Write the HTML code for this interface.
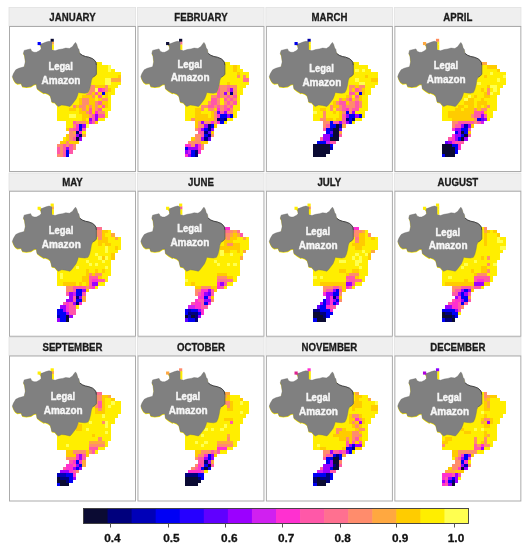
<!DOCTYPE html><html><head><meta charset="utf-8"><style>
html,body{margin:0;padding:0;background:#fff;}
body{width:528px;height:550px;position:relative;overflow:hidden;}
svg{position:absolute;left:0;top:0;will-change:transform;}
text{font-family:"Liberation Sans",sans-serif;font-weight:bold;}
</style></head><body>
<svg width="528" height="550" viewBox="0 0 528 550">
<defs><polygon id="amz" points="3.4,50.6 4.5,47.6 6.8,43.8 9.8,42.3 15.2,40.8 16.3,35.8 15.5,29.7 14.4,27.4 15.2,24.4 18.9,23.6 21.6,22.9 22.7,25.2 25,26.3 27.3,26.3 30.3,24.8 32.2,22.9 31.8,19.8 30.3,18.3 33.3,17.6 37.1,16.1 40,15.3 41.3,15.6 43,15.8 43,23.6 44.5,24.2 46,24.8 49.8,23.6 53.6,22.9 56.7,22.1 60.5,22.5 63.5,20.6 65,18.3 66.5,16.4 67.7,18.3 68.8,22.1 69.9,23.3 70.7,27.4 73.3,29.3 76.4,30.5 79.8,31.2 83.6,32.7 85.8,34.6 87,36.5 87.4,39.2 87.4,48.2 85.8,50.1 83.6,51.3 82.4,54.3 81.7,58.8 80.5,63.5 79,66.6 76,67.3 72.4,66.9 69.3,66.5 68.6,69.2 67.1,72.9 64.8,76 62.5,79 61,80.5 56.5,79.4 52.7,79 49.3,80.5 47.7,79 45.8,76.7 42.8,76 42.1,72.9 41.3,69.9 39,68 36,66.9 34.8,67.3 31.1,65 28,62.7 27.3,58.2 25,58.6 22,60.5 17.4,61.2 13.3,60.5 12.1,57.4 8.3,57.8 6.1,56.3 4.5,53.6"/></defs>

<rect x="9.00" y="7.40" width="126.6" height="18.60" fill="#efefef" stroke="#e2e2e2" stroke-width="0.8"/>
<text transform="translate(72.50,21.10) scale(0.92,1)" font-size="10.5" text-anchor="middle" fill="#1a1a1a" stroke="#1a1a1a" stroke-width="0.3">JANUARY</text>
<rect x="9.50" y="26.50" width="126" height="145" fill="#fff" stroke="#ababab" stroke-width="1"/>
<g transform="translate(9.00,26.00)">
<g shape-rendering="crispEdges"><rect x="47.58" y="36.10" width="45.08" height="3.27" fill="#ffee00"/><rect x="47.58" y="39.37" width="51.52" height="3.27" fill="#ffee00"/><rect x="99.10" y="39.37" width="3.22" height="3.27" fill="#ffff50"/><rect x="47.58" y="42.64" width="51.52" height="3.27" fill="#ffee00"/><rect x="99.10" y="42.64" width="3.22" height="3.27" fill="#ffff50"/><rect x="102.32" y="42.64" width="3.22" height="3.27" fill="#ffee00"/><rect x="47.58" y="45.91" width="64.40" height="3.27" fill="#ffee00"/><rect x="47.58" y="49.18" width="61.18" height="3.27" fill="#ffee00"/><rect x="108.76" y="49.18" width="3.22" height="3.27" fill="#ffcc00"/><rect x="47.58" y="52.45" width="48.30" height="3.27" fill="#ffee00"/><rect x="95.88" y="52.45" width="6.44" height="3.27" fill="#ffff50"/><rect x="102.32" y="52.45" width="9.66" height="3.27" fill="#ffa840"/><rect x="47.58" y="55.72" width="48.30" height="3.27" fill="#ffee00"/><rect x="95.88" y="55.72" width="6.44" height="3.27" fill="#ffff50"/><rect x="102.32" y="55.72" width="9.66" height="3.27" fill="#ffee00"/><rect x="47.58" y="58.99" width="28.98" height="3.27" fill="#ffee00"/><rect x="76.56" y="58.99" width="9.66" height="3.27" fill="#ff8c6c"/><rect x="86.22" y="58.99" width="9.66" height="3.27" fill="#ffcc00"/><rect x="95.88" y="58.99" width="3.22" height="3.27" fill="#ff8c6c"/><rect x="99.10" y="58.99" width="9.66" height="3.27" fill="#ffee00"/><rect x="47.58" y="62.26" width="25.76" height="3.27" fill="#ffee00"/><rect x="73.34" y="62.26" width="12.88" height="3.27" fill="#ff8c6c"/><rect x="86.22" y="62.26" width="3.22" height="3.27" fill="#ffff50"/><rect x="89.44" y="62.26" width="3.22" height="3.27" fill="#ff30d0"/><rect x="92.66" y="62.26" width="3.22" height="3.27" fill="#ff58a8"/><rect x="95.88" y="62.26" width="3.22" height="3.27" fill="#ff8c6c"/><rect x="99.10" y="62.26" width="3.22" height="3.27" fill="#ffcc00"/><rect x="102.32" y="62.26" width="3.22" height="3.27" fill="#ffee00"/><rect x="47.58" y="65.53" width="28.98" height="3.27" fill="#ffee00"/><rect x="76.56" y="65.53" width="6.44" height="3.27" fill="#ff8c6c"/><rect x="83.00" y="65.53" width="3.22" height="3.27" fill="#ffcc00"/><rect x="86.22" y="65.53" width="3.22" height="3.27" fill="#ff58a8"/><rect x="89.44" y="65.53" width="3.22" height="3.27" fill="#ffcc00"/><rect x="92.66" y="65.53" width="3.22" height="3.27" fill="#0000f5"/><rect x="95.88" y="65.53" width="3.22" height="3.27" fill="#ffcc00"/><rect x="99.10" y="65.53" width="6.44" height="3.27" fill="#ffee00"/><rect x="47.58" y="68.80" width="25.76" height="3.27" fill="#ffee00"/><rect x="73.34" y="68.80" width="9.66" height="3.27" fill="#ffcc00"/><rect x="83.00" y="68.80" width="3.22" height="3.27" fill="#ff8c6c"/><rect x="86.22" y="68.80" width="3.22" height="3.27" fill="#ffee00"/><rect x="89.44" y="68.80" width="3.22" height="3.27" fill="#ff58a8"/><rect x="92.66" y="68.80" width="3.22" height="3.27" fill="#ffee00"/><rect x="95.88" y="68.80" width="3.22" height="3.27" fill="#ffcc00"/><rect x="99.10" y="68.80" width="3.22" height="3.27" fill="#ffee00"/><rect x="47.58" y="72.07" width="22.54" height="3.27" fill="#ffee00"/><rect x="70.12" y="72.07" width="3.22" height="3.27" fill="#ffcc00"/><rect x="73.34" y="72.07" width="6.44" height="3.27" fill="#ff8c6c"/><rect x="79.78" y="72.07" width="6.44" height="3.27" fill="#ffcc00"/><rect x="86.22" y="72.07" width="3.22" height="3.27" fill="#ffee00"/><rect x="89.44" y="72.07" width="3.22" height="3.27" fill="#ffcc00"/><rect x="92.66" y="72.07" width="6.44" height="3.27" fill="#ff8c6c"/><rect x="99.10" y="72.07" width="3.22" height="3.27" fill="#ffee00"/><rect x="47.58" y="75.34" width="22.54" height="3.27" fill="#ffee00"/><rect x="70.12" y="75.34" width="3.22" height="3.27" fill="#ffcc00"/><rect x="73.34" y="75.34" width="6.44" height="3.27" fill="#ff8c6c"/><rect x="79.78" y="75.34" width="6.44" height="3.27" fill="#ffcc00"/><rect x="86.22" y="75.34" width="3.22" height="3.27" fill="#ff8c6c"/><rect x="89.44" y="75.34" width="3.22" height="3.27" fill="#ff58a8"/><rect x="92.66" y="75.34" width="6.44" height="3.27" fill="#ffcc00"/><rect x="99.10" y="75.34" width="3.22" height="3.27" fill="#ffee00"/><rect x="47.58" y="78.61" width="16.10" height="3.27" fill="#ffee00"/><rect x="63.68" y="78.61" width="3.22" height="3.27" fill="#ff8c6c"/><rect x="66.90" y="78.61" width="3.22" height="3.27" fill="#ffcc00"/><rect x="70.12" y="78.61" width="6.44" height="3.27" fill="#ff8c6c"/><rect x="76.56" y="78.61" width="3.22" height="3.27" fill="#ffcc00"/><rect x="79.78" y="78.61" width="3.22" height="3.27" fill="#ff8c6c"/><rect x="83.00" y="78.61" width="3.22" height="3.27" fill="#ffcc00"/><rect x="86.22" y="78.61" width="3.22" height="3.27" fill="#ff8c6c"/><rect x="89.44" y="78.61" width="3.22" height="3.27" fill="#ffcc00"/><rect x="92.66" y="78.61" width="3.22" height="3.27" fill="#ff58a8"/><rect x="95.88" y="78.61" width="3.22" height="3.27" fill="#ffcc00"/><rect x="99.10" y="78.61" width="3.22" height="3.27" fill="#ffee00"/><rect x="47.58" y="81.88" width="12.88" height="3.27" fill="#ffee00"/><rect x="60.46" y="81.88" width="6.44" height="3.27" fill="#ffcc00"/><rect x="66.90" y="81.88" width="3.22" height="3.27" fill="#ffee00"/><rect x="70.12" y="81.88" width="3.22" height="3.27" fill="#ffcc00"/><rect x="73.34" y="81.88" width="3.22" height="3.27" fill="#ff8c6c"/><rect x="76.56" y="81.88" width="3.22" height="3.27" fill="#ffcc00"/><rect x="79.78" y="81.88" width="3.22" height="3.27" fill="#ff58a8"/><rect x="83.00" y="81.88" width="3.22" height="3.27" fill="#ffcc00"/><rect x="86.22" y="81.88" width="3.22" height="3.27" fill="#ff8c6c"/><rect x="89.44" y="81.88" width="3.22" height="3.27" fill="#ff58a8"/><rect x="92.66" y="81.88" width="9.66" height="3.27" fill="#ffee00"/><rect x="47.58" y="85.15" width="22.54" height="3.27" fill="#ffee00"/><rect x="70.12" y="85.15" width="6.44" height="3.27" fill="#ffcc00"/><rect x="76.56" y="85.15" width="3.22" height="3.27" fill="#ff8c6c"/><rect x="79.78" y="85.15" width="3.22" height="3.27" fill="#ff58a8"/><rect x="83.00" y="85.15" width="3.22" height="3.27" fill="#ffcc00"/><rect x="86.22" y="85.15" width="3.22" height="3.27" fill="#ff30d0"/><rect x="89.44" y="85.15" width="6.44" height="3.27" fill="#ff8c6c"/><rect x="95.88" y="85.15" width="3.22" height="3.27" fill="#ffee00"/><rect x="47.58" y="88.42" width="12.88" height="3.27" fill="#ffee00"/><rect x="60.46" y="88.42" width="6.44" height="3.27" fill="#ffff50"/><rect x="66.90" y="88.42" width="6.44" height="3.27" fill="#ffee00"/><rect x="73.34" y="88.42" width="6.44" height="3.27" fill="#ffcc00"/><rect x="79.78" y="88.42" width="3.22" height="3.27" fill="#ff8c6c"/><rect x="83.00" y="88.42" width="3.22" height="3.27" fill="#ff58a8"/><rect x="86.22" y="88.42" width="3.22" height="3.27" fill="#9b00ff"/><rect x="89.44" y="88.42" width="6.44" height="3.27" fill="#ff58a8"/><rect x="95.88" y="88.42" width="3.22" height="3.27" fill="#ffee00"/><rect x="47.58" y="91.69" width="25.76" height="3.27" fill="#ffee00"/><rect x="73.34" y="91.69" width="3.22" height="3.27" fill="#ffcc00"/><rect x="76.56" y="91.69" width="3.22" height="3.27" fill="#ffee00"/><rect x="79.78" y="91.69" width="3.22" height="3.27" fill="#9b00ff"/><rect x="83.00" y="91.69" width="3.22" height="3.27" fill="#ff58a8"/><rect x="86.22" y="91.69" width="3.22" height="3.27" fill="#9b00ff"/><rect x="89.44" y="91.69" width="6.44" height="3.27" fill="#ffee00"/><rect x="57.24" y="94.96" width="6.44" height="3.27" fill="#ffee00"/><rect x="63.68" y="94.96" width="3.22" height="3.27" fill="#ff58a8"/><rect x="66.90" y="94.96" width="9.66" height="3.27" fill="#ff8c6c"/><rect x="76.56" y="94.96" width="3.22" height="3.27" fill="#ffcc00"/><rect x="79.78" y="94.96" width="3.22" height="3.27" fill="#d020f0"/><rect x="83.00" y="94.96" width="3.22" height="3.27" fill="#ff58a8"/><rect x="86.22" y="94.96" width="3.22" height="3.27" fill="#ffcc00"/><rect x="57.24" y="98.23" width="6.44" height="3.27" fill="#ffee00"/><rect x="63.68" y="98.23" width="3.22" height="3.27" fill="#ff8c6c"/><rect x="66.90" y="98.23" width="3.22" height="3.27" fill="#ff30d0"/><rect x="70.12" y="98.23" width="3.22" height="3.27" fill="#0000f5"/><rect x="73.34" y="98.23" width="3.22" height="3.27" fill="#9b00ff"/><rect x="76.56" y="98.23" width="3.22" height="3.27" fill="#ffff50"/><rect x="57.24" y="101.50" width="3.22" height="3.27" fill="#ffcc00"/><rect x="60.46" y="101.50" width="3.22" height="3.27" fill="#ff7090"/><rect x="63.68" y="101.50" width="3.22" height="3.27" fill="#ff58a8"/><rect x="66.90" y="101.50" width="3.22" height="3.27" fill="#ff30d0"/><rect x="70.12" y="101.50" width="3.22" height="3.27" fill="#0000f5"/><rect x="73.34" y="101.50" width="3.22" height="3.27" fill="#ff58a8"/><rect x="60.46" y="104.77" width="3.22" height="3.27" fill="#ff8c6c"/><rect x="63.68" y="104.77" width="3.22" height="3.27" fill="#ffa840"/><rect x="66.90" y="104.77" width="3.22" height="3.27" fill="#00007d"/><rect x="70.12" y="104.77" width="3.22" height="3.27" fill="#ff30d0"/><rect x="73.34" y="104.77" width="3.22" height="3.27" fill="#ffee00"/><rect x="57.24" y="108.04" width="3.22" height="3.27" fill="#ffcc00"/><rect x="60.46" y="108.04" width="6.44" height="3.27" fill="#ff8c6c"/><rect x="66.90" y="108.04" width="3.22" height="3.27" fill="#9b00ff"/><rect x="70.12" y="108.04" width="3.22" height="3.27" fill="#00007d"/><rect x="73.34" y="108.04" width="3.22" height="3.27" fill="#ffa840"/><rect x="54.02" y="111.31" width="3.22" height="3.27" fill="#ffee00"/><rect x="57.24" y="111.31" width="3.22" height="3.27" fill="#ffcc00"/><rect x="60.46" y="111.31" width="3.22" height="3.27" fill="#ff8c6c"/><rect x="63.68" y="111.31" width="3.22" height="3.27" fill="#ff58a8"/><rect x="66.90" y="111.31" width="3.22" height="3.27" fill="#0b0b33"/><rect x="70.12" y="111.31" width="3.22" height="3.27" fill="#9b00ff"/><rect x="50.80" y="114.58" width="6.44" height="3.27" fill="#ffcc00"/><rect x="57.24" y="114.58" width="3.22" height="3.27" fill="#ff8c6c"/><rect x="60.46" y="114.58" width="9.66" height="3.27" fill="#ffcc00"/><rect x="47.58" y="117.85" width="6.44" height="3.27" fill="#ff8c6c"/><rect x="54.02" y="117.85" width="3.22" height="3.27" fill="#ff58a8"/><rect x="57.24" y="117.85" width="3.22" height="3.27" fill="#ff8c6c"/><rect x="60.46" y="117.85" width="3.22" height="3.27" fill="#ff58a8"/><rect x="63.68" y="117.85" width="3.22" height="3.27" fill="#ff8c6c"/><rect x="47.58" y="121.12" width="3.22" height="3.27" fill="#ff58a8"/><rect x="50.80" y="121.12" width="3.22" height="3.27" fill="#ff8c6c"/><rect x="54.02" y="121.12" width="3.22" height="3.27" fill="#ff58a8"/><rect x="57.24" y="121.12" width="3.22" height="3.27" fill="#9b00ff"/><rect x="60.46" y="121.12" width="3.22" height="3.27" fill="#ff58a8"/><rect x="63.68" y="121.12" width="3.22" height="3.27" fill="#ff8c6c"/><rect x="47.58" y="124.39" width="3.22" height="3.27" fill="#ff58a8"/><rect x="50.80" y="124.39" width="3.22" height="3.27" fill="#ff8c6c"/><rect x="54.02" y="124.39" width="3.22" height="3.27" fill="#ff58a8"/><rect x="57.24" y="124.39" width="3.22" height="3.27" fill="#0000f5"/><rect x="60.46" y="124.39" width="3.22" height="3.27" fill="#ff58a8"/><rect x="47.58" y="127.66" width="6.44" height="3.27" fill="#ff8c6c"/><rect x="54.02" y="127.66" width="3.22" height="3.27" fill="#ff58a8"/><rect x="57.24" y="127.66" width="3.22" height="3.27" fill="#0000f5"/></g>
<use href="#amz" fill="#ffee00" transform="translate(0,0.9)"/>
<use href="#amz" fill="#808080" stroke="#6a6a6a" stroke-width="0.4"/>
<rect x="43.0" y="18.4" width="1.9" height="5.4" fill="#ffee00"/>
<rect x="43.0" y="15.5" width="1.9" height="3.0" fill="#ffa840"/>
<rect x="28.6" y="16.0" width="3.2" height="3.1" fill="#0000ff"/>
<rect x="41.6" y="12.8" width="3.2" height="2.9" fill="#0b0b33"/>
<polyline points="70.7,27.4 73.3,29.3 76.4,30.5 79.8,31.2 83.6,32.7 85.8,34.6 87,36.5 87.4,39.2" fill="none" stroke="#3a3a3a" stroke-width="0.9"/><polyline points="87.4,39.2 87.4,48.2 85.8,50.1 83.6,51.3" fill="none" stroke="#555" stroke-width="0.6"/>
<text transform="translate(51.70,43.80) scale(0.94,1)" font-size="10" text-anchor="middle" fill="#f6f6f6" stroke="#f6f6f6" stroke-width="0.4">Legal</text>
<text x="52.00" y="58.00" font-size="10" text-anchor="middle" fill="#f6f6f6" stroke="#f6f6f6" stroke-width="0.4">Amazon</text>
</g>
<rect x="137.45" y="7.40" width="126.6" height="18.60" fill="#efefef" stroke="#e2e2e2" stroke-width="0.8"/>
<text transform="translate(200.95,21.10) scale(0.92,1)" font-size="10.5" text-anchor="middle" fill="#1a1a1a" stroke="#1a1a1a" stroke-width="0.3">FEBRUARY</text>
<rect x="137.95" y="26.50" width="126" height="145" fill="#fff" stroke="#ababab" stroke-width="1"/>
<g transform="translate(137.45,26.00)">
<g shape-rendering="crispEdges"><rect x="47.58" y="36.10" width="45.08" height="3.27" fill="#ffee00"/><rect x="47.58" y="39.37" width="48.30" height="3.27" fill="#ffee00"/><rect x="95.88" y="39.37" width="3.22" height="3.27" fill="#ffcc00"/><rect x="99.10" y="39.37" width="3.22" height="3.27" fill="#ffee00"/><rect x="47.58" y="42.64" width="48.30" height="3.27" fill="#ffee00"/><rect x="95.88" y="42.64" width="3.22" height="3.27" fill="#ffcc00"/><rect x="99.10" y="42.64" width="6.44" height="3.27" fill="#ffee00"/><rect x="47.58" y="45.91" width="51.52" height="3.27" fill="#ffee00"/><rect x="99.10" y="45.91" width="3.22" height="3.27" fill="#ffcc00"/><rect x="102.32" y="45.91" width="9.66" height="3.27" fill="#ffee00"/><rect x="47.58" y="49.18" width="51.52" height="3.27" fill="#ffee00"/><rect x="99.10" y="49.18" width="3.22" height="3.27" fill="#ff8c6c"/><rect x="102.32" y="49.18" width="3.22" height="3.27" fill="#ffee00"/><rect x="105.54" y="49.18" width="3.22" height="3.27" fill="#ff8c6c"/><rect x="108.76" y="49.18" width="3.22" height="3.27" fill="#ffee00"/><rect x="47.58" y="52.45" width="57.96" height="3.27" fill="#ffee00"/><rect x="105.54" y="52.45" width="6.44" height="3.27" fill="#ff7090"/><rect x="47.58" y="55.72" width="41.86" height="3.27" fill="#ffee00"/><rect x="89.44" y="55.72" width="3.22" height="3.27" fill="#ffcc00"/><rect x="92.66" y="55.72" width="19.32" height="3.27" fill="#ffee00"/><rect x="47.58" y="58.99" width="32.20" height="3.27" fill="#ffee00"/><rect x="79.78" y="58.99" width="3.22" height="3.27" fill="#ff7090"/><rect x="83.00" y="58.99" width="6.44" height="3.27" fill="#ff8c6c"/><rect x="89.44" y="58.99" width="3.22" height="3.27" fill="#ff7090"/><rect x="92.66" y="58.99" width="6.44" height="3.27" fill="#ff8c6c"/><rect x="99.10" y="58.99" width="9.66" height="3.27" fill="#ffee00"/><rect x="47.58" y="62.26" width="32.20" height="3.27" fill="#ffee00"/><rect x="79.78" y="62.26" width="3.22" height="3.27" fill="#ff58a8"/><rect x="83.00" y="62.26" width="6.44" height="3.27" fill="#ff8c6c"/><rect x="89.44" y="62.26" width="3.22" height="3.27" fill="#ff58a8"/><rect x="92.66" y="62.26" width="3.22" height="3.27" fill="#9b00ff"/><rect x="95.88" y="62.26" width="3.22" height="3.27" fill="#ff8c6c"/><rect x="99.10" y="62.26" width="6.44" height="3.27" fill="#ffee00"/><rect x="47.58" y="65.53" width="32.20" height="3.27" fill="#ffee00"/><rect x="79.78" y="65.53" width="3.22" height="3.27" fill="#ff58a8"/><rect x="83.00" y="65.53" width="3.22" height="3.27" fill="#ff8c6c"/><rect x="86.22" y="65.53" width="3.22" height="3.27" fill="#9b00ff"/><rect x="89.44" y="65.53" width="3.22" height="3.27" fill="#ffa840"/><rect x="92.66" y="65.53" width="3.22" height="3.27" fill="#00007d"/><rect x="95.88" y="65.53" width="3.22" height="3.27" fill="#ff8c6c"/><rect x="99.10" y="65.53" width="6.44" height="3.27" fill="#ffee00"/><rect x="47.58" y="68.80" width="25.76" height="3.27" fill="#ffee00"/><rect x="73.34" y="68.80" width="6.44" height="3.27" fill="#ff8c6c"/><rect x="79.78" y="68.80" width="3.22" height="3.27" fill="#ff58a8"/><rect x="83.00" y="68.80" width="6.44" height="3.27" fill="#ff8c6c"/><rect x="89.44" y="68.80" width="3.22" height="3.27" fill="#ff58a8"/><rect x="92.66" y="68.80" width="3.22" height="3.27" fill="#ff8c6c"/><rect x="95.88" y="68.80" width="3.22" height="3.27" fill="#ff58a8"/><rect x="99.10" y="68.80" width="3.22" height="3.27" fill="#ffee00"/><rect x="47.58" y="72.07" width="25.76" height="3.27" fill="#ffee00"/><rect x="73.34" y="72.07" width="6.44" height="3.27" fill="#ff58a8"/><rect x="79.78" y="72.07" width="3.22" height="3.27" fill="#ff8c6c"/><rect x="83.00" y="72.07" width="3.22" height="3.27" fill="#ffee00"/><rect x="86.22" y="72.07" width="3.22" height="3.27" fill="#ff58a8"/><rect x="89.44" y="72.07" width="3.22" height="3.27" fill="#ff8c6c"/><rect x="92.66" y="72.07" width="3.22" height="3.27" fill="#ff58a8"/><rect x="95.88" y="72.07" width="3.22" height="3.27" fill="#ff8c6c"/><rect x="99.10" y="72.07" width="3.22" height="3.27" fill="#ffee00"/><rect x="47.58" y="75.34" width="22.54" height="3.27" fill="#ffee00"/><rect x="70.12" y="75.34" width="3.22" height="3.27" fill="#ff8c6c"/><rect x="73.34" y="75.34" width="6.44" height="3.27" fill="#ff58a8"/><rect x="79.78" y="75.34" width="3.22" height="3.27" fill="#ff8c6c"/><rect x="83.00" y="75.34" width="3.22" height="3.27" fill="#ffee00"/><rect x="86.22" y="75.34" width="3.22" height="3.27" fill="#ff8c6c"/><rect x="89.44" y="75.34" width="3.22" height="3.27" fill="#ff58a8"/><rect x="92.66" y="75.34" width="3.22" height="3.27" fill="#ff8c6c"/><rect x="95.88" y="75.34" width="3.22" height="3.27" fill="#ff58a8"/><rect x="99.10" y="75.34" width="3.22" height="3.27" fill="#ffee00"/><rect x="47.58" y="78.61" width="16.10" height="3.27" fill="#ffee00"/><rect x="63.68" y="78.61" width="6.44" height="3.27" fill="#ff8c6c"/><rect x="70.12" y="78.61" width="6.44" height="3.27" fill="#ff58a8"/><rect x="76.56" y="78.61" width="3.22" height="3.27" fill="#ff8c6c"/><rect x="79.78" y="78.61" width="3.22" height="3.27" fill="#ff58a8"/><rect x="83.00" y="78.61" width="3.22" height="3.27" fill="#ff8c6c"/><rect x="86.22" y="78.61" width="3.22" height="3.27" fill="#ff58a8"/><rect x="89.44" y="78.61" width="3.22" height="3.27" fill="#ff8c6c"/><rect x="92.66" y="78.61" width="3.22" height="3.27" fill="#ff58a8"/><rect x="95.88" y="78.61" width="6.44" height="3.27" fill="#ffee00"/><rect x="47.58" y="81.88" width="9.66" height="3.27" fill="#ffee00"/><rect x="57.24" y="81.88" width="6.44" height="3.27" fill="#ffcc00"/><rect x="63.68" y="81.88" width="3.22" height="3.27" fill="#ff8c6c"/><rect x="66.90" y="81.88" width="3.22" height="3.27" fill="#ffee00"/><rect x="70.12" y="81.88" width="6.44" height="3.27" fill="#ff8c6c"/><rect x="76.56" y="81.88" width="3.22" height="3.27" fill="#ffcc00"/><rect x="79.78" y="81.88" width="3.22" height="3.27" fill="#ff30d0"/><rect x="83.00" y="81.88" width="3.22" height="3.27" fill="#ff8c6c"/><rect x="86.22" y="81.88" width="3.22" height="3.27" fill="#ff58a8"/><rect x="89.44" y="81.88" width="3.22" height="3.27" fill="#ff30d0"/><rect x="92.66" y="81.88" width="3.22" height="3.27" fill="#ff8c6c"/><rect x="95.88" y="81.88" width="6.44" height="3.27" fill="#ffee00"/><rect x="47.58" y="85.15" width="9.66" height="3.27" fill="#ffee00"/><rect x="57.24" y="85.15" width="6.44" height="3.27" fill="#ffcc00"/><rect x="63.68" y="85.15" width="9.66" height="3.27" fill="#ffee00"/><rect x="73.34" y="85.15" width="3.22" height="3.27" fill="#ffcc00"/><rect x="76.56" y="85.15" width="3.22" height="3.27" fill="#ff8c6c"/><rect x="79.78" y="85.15" width="3.22" height="3.27" fill="#6000ff"/><rect x="83.00" y="85.15" width="3.22" height="3.27" fill="#ff58a8"/><rect x="86.22" y="85.15" width="3.22" height="3.27" fill="#9b00ff"/><rect x="89.44" y="85.15" width="6.44" height="3.27" fill="#ff8c6c"/><rect x="95.88" y="85.15" width="3.22" height="3.27" fill="#ffee00"/><rect x="47.58" y="88.42" width="9.66" height="3.27" fill="#ffee00"/><rect x="57.24" y="88.42" width="12.88" height="3.27" fill="#ffcc00"/><rect x="70.12" y="88.42" width="3.22" height="3.27" fill="#ffee00"/><rect x="73.34" y="88.42" width="3.22" height="3.27" fill="#ffcc00"/><rect x="76.56" y="88.42" width="3.22" height="3.27" fill="#ff8c6c"/><rect x="79.78" y="88.42" width="3.22" height="3.27" fill="#ff30d0"/><rect x="83.00" y="88.42" width="6.44" height="3.27" fill="#0000f5"/><rect x="89.44" y="88.42" width="3.22" height="3.27" fill="#9b00ff"/><rect x="92.66" y="88.42" width="3.22" height="3.27" fill="#0000f5"/><rect x="95.88" y="88.42" width="3.22" height="3.27" fill="#ffee00"/><rect x="47.58" y="91.69" width="6.44" height="3.27" fill="#ffee00"/><rect x="54.02" y="91.69" width="3.22" height="3.27" fill="#ff8c6c"/><rect x="57.24" y="91.69" width="19.32" height="3.27" fill="#ffcc00"/><rect x="76.56" y="91.69" width="3.22" height="3.27" fill="#ff8c6c"/><rect x="79.78" y="91.69" width="3.22" height="3.27" fill="#00007d"/><rect x="83.00" y="91.69" width="3.22" height="3.27" fill="#0000b8"/><rect x="86.22" y="91.69" width="3.22" height="3.27" fill="#00007d"/><rect x="89.44" y="91.69" width="6.44" height="3.27" fill="#ffee00"/><rect x="57.24" y="94.96" width="3.22" height="3.27" fill="#ffcc00"/><rect x="60.46" y="94.96" width="3.22" height="3.27" fill="#ff8c6c"/><rect x="63.68" y="94.96" width="3.22" height="3.27" fill="#9b00ff"/><rect x="66.90" y="94.96" width="6.44" height="3.27" fill="#ff8c6c"/><rect x="73.34" y="94.96" width="3.22" height="3.27" fill="#ff30d0"/><rect x="76.56" y="94.96" width="3.22" height="3.27" fill="#ff8c6c"/><rect x="79.78" y="94.96" width="3.22" height="3.27" fill="#ff30d0"/><rect x="83.00" y="94.96" width="3.22" height="3.27" fill="#0000f5"/><rect x="86.22" y="94.96" width="3.22" height="3.27" fill="#ffee00"/><rect x="57.24" y="98.23" width="3.22" height="3.27" fill="#ffcc00"/><rect x="60.46" y="98.23" width="6.44" height="3.27" fill="#ff8c6c"/><rect x="66.90" y="98.23" width="3.22" height="3.27" fill="#9b00ff"/><rect x="70.12" y="98.23" width="3.22" height="3.27" fill="#00007d"/><rect x="73.34" y="98.23" width="3.22" height="3.27" fill="#0000f5"/><rect x="76.56" y="98.23" width="3.22" height="3.27" fill="#ffcc00"/><rect x="57.24" y="101.50" width="3.22" height="3.27" fill="#ff8c6c"/><rect x="60.46" y="101.50" width="3.22" height="3.27" fill="#ff58a8"/><rect x="63.68" y="101.50" width="3.22" height="3.27" fill="#9b00ff"/><rect x="66.90" y="101.50" width="3.22" height="3.27" fill="#0000f5"/><rect x="70.12" y="101.50" width="3.22" height="3.27" fill="#00007d"/><rect x="73.34" y="101.50" width="3.22" height="3.27" fill="#9b00ff"/><rect x="60.46" y="104.77" width="6.44" height="3.27" fill="#ff58a8"/><rect x="66.90" y="104.77" width="3.22" height="3.27" fill="#00007d"/><rect x="70.12" y="104.77" width="3.22" height="3.27" fill="#6000ff"/><rect x="73.34" y="104.77" width="3.22" height="3.27" fill="#ffcc00"/><rect x="57.24" y="108.04" width="6.44" height="3.27" fill="#ff8c6c"/><rect x="63.68" y="108.04" width="3.22" height="3.27" fill="#ff58a8"/><rect x="66.90" y="108.04" width="3.22" height="3.27" fill="#0000f5"/><rect x="70.12" y="108.04" width="3.22" height="3.27" fill="#00007d"/><rect x="73.34" y="108.04" width="3.22" height="3.27" fill="#ff8c6c"/><rect x="54.02" y="111.31" width="3.22" height="3.27" fill="#ffcc00"/><rect x="57.24" y="111.31" width="6.44" height="3.27" fill="#ff8c6c"/><rect x="63.68" y="111.31" width="3.22" height="3.27" fill="#9b00ff"/><rect x="66.90" y="111.31" width="3.22" height="3.27" fill="#00007d"/><rect x="70.12" y="111.31" width="3.22" height="3.27" fill="#6000ff"/><rect x="50.80" y="114.58" width="12.88" height="3.27" fill="#ff8c6c"/><rect x="63.68" y="114.58" width="6.44" height="3.27" fill="#ffcc00"/><rect x="47.58" y="117.85" width="6.44" height="3.27" fill="#ff30d0"/><rect x="54.02" y="117.85" width="3.22" height="3.27" fill="#ff8c6c"/><rect x="57.24" y="117.85" width="3.22" height="3.27" fill="#9b00ff"/><rect x="60.46" y="117.85" width="3.22" height="3.27" fill="#ff30d0"/><rect x="63.68" y="117.85" width="3.22" height="3.27" fill="#ff8c6c"/><rect x="47.58" y="121.12" width="3.22" height="3.27" fill="#0000f5"/><rect x="50.80" y="121.12" width="9.66" height="3.27" fill="#9b00ff"/><rect x="60.46" y="121.12" width="3.22" height="3.27" fill="#ff30d0"/><rect x="63.68" y="121.12" width="3.22" height="3.27" fill="#ff8c6c"/><rect x="47.58" y="124.39" width="3.22" height="3.27" fill="#9b00ff"/><rect x="50.80" y="124.39" width="3.22" height="3.27" fill="#d020f0"/><rect x="54.02" y="124.39" width="3.22" height="3.27" fill="#0000f5"/><rect x="57.24" y="124.39" width="3.22" height="3.27" fill="#00007d"/><rect x="60.46" y="124.39" width="3.22" height="3.27" fill="#ff30d0"/><rect x="47.58" y="127.66" width="3.22" height="3.27" fill="#ff30d0"/><rect x="50.80" y="127.66" width="3.22" height="3.27" fill="#9b00ff"/><rect x="54.02" y="127.66" width="3.22" height="3.27" fill="#0000f5"/><rect x="57.24" y="127.66" width="3.22" height="3.27" fill="#00007d"/></g>
<use href="#amz" fill="#ffee00" transform="translate(0,0.9)"/>
<use href="#amz" fill="#808080" stroke="#6a6a6a" stroke-width="0.4"/>
<rect x="43.0" y="18.4" width="1.9" height="5.4" fill="#ffee00"/>
<rect x="43.0" y="15.5" width="1.9" height="3.0" fill="#ff7090"/>
<rect x="28.6" y="16.0" width="3.2" height="3.1" fill="#101038"/>
<rect x="41.6" y="12.8" width="3.2" height="2.9" fill="#0b0b33"/>
<polyline points="70.7,27.4 73.3,29.3 76.4,30.5 79.8,31.2 83.6,32.7 85.8,34.6 87,36.5 87.4,39.2" fill="none" stroke="#3a3a3a" stroke-width="0.9"/><polyline points="87.4,39.2 87.4,48.2 85.8,50.1 83.6,51.3" fill="none" stroke="#555" stroke-width="0.6"/>
<text transform="translate(52.35,41.70) scale(0.94,1)" font-size="10" text-anchor="middle" fill="#f6f6f6" stroke="#f6f6f6" stroke-width="0.4">Legal</text>
<text x="52.65" y="55.40" font-size="10" text-anchor="middle" fill="#f6f6f6" stroke="#f6f6f6" stroke-width="0.4">Amazon</text>
</g>
<rect x="265.90" y="7.40" width="126.6" height="18.60" fill="#efefef" stroke="#e2e2e2" stroke-width="0.8"/>
<text transform="translate(329.40,21.10) scale(0.92,1)" font-size="10.5" text-anchor="middle" fill="#1a1a1a" stroke="#1a1a1a" stroke-width="0.3">MARCH</text>
<rect x="266.40" y="26.50" width="126" height="145" fill="#fff" stroke="#ababab" stroke-width="1"/>
<g transform="translate(265.90,26.00)">
<g shape-rendering="crispEdges"><rect x="47.58" y="36.10" width="45.08" height="3.27" fill="#ffee00"/><rect x="47.58" y="39.37" width="54.74" height="3.27" fill="#ffee00"/><rect x="47.58" y="42.64" width="41.86" height="3.27" fill="#ffee00"/><rect x="89.44" y="42.64" width="3.22" height="3.27" fill="#ffff50"/><rect x="92.66" y="42.64" width="3.22" height="3.27" fill="#ffee00"/><rect x="95.88" y="42.64" width="3.22" height="3.27" fill="#ffff50"/><rect x="99.10" y="42.64" width="6.44" height="3.27" fill="#ffee00"/><rect x="47.58" y="45.91" width="64.40" height="3.27" fill="#ffee00"/><rect x="47.58" y="49.18" width="51.52" height="3.27" fill="#ffee00"/><rect x="99.10" y="49.18" width="3.22" height="3.27" fill="#ffcc00"/><rect x="102.32" y="49.18" width="9.66" height="3.27" fill="#ffee00"/><rect x="47.58" y="52.45" width="41.86" height="3.27" fill="#ffee00"/><rect x="89.44" y="52.45" width="3.22" height="3.27" fill="#ffff50"/><rect x="92.66" y="52.45" width="12.88" height="3.27" fill="#ffee00"/><rect x="105.54" y="52.45" width="6.44" height="3.27" fill="#ffcc00"/><rect x="47.58" y="55.72" width="45.08" height="3.27" fill="#ffee00"/><rect x="92.66" y="55.72" width="6.44" height="3.27" fill="#ffff50"/><rect x="99.10" y="55.72" width="12.88" height="3.27" fill="#ffee00"/><rect x="47.58" y="58.99" width="35.42" height="3.27" fill="#ffee00"/><rect x="83.00" y="58.99" width="6.44" height="3.27" fill="#ff8c6c"/><rect x="89.44" y="58.99" width="3.22" height="3.27" fill="#ffcc00"/><rect x="92.66" y="58.99" width="6.44" height="3.27" fill="#ff8c6c"/><rect x="99.10" y="58.99" width="9.66" height="3.27" fill="#ffee00"/><rect x="47.58" y="62.26" width="35.42" height="3.27" fill="#ffee00"/><rect x="83.00" y="62.26" width="3.22" height="3.27" fill="#ff8c6c"/><rect x="86.22" y="62.26" width="3.22" height="3.27" fill="#ffcc00"/><rect x="89.44" y="62.26" width="3.22" height="3.27" fill="#ff58a8"/><rect x="92.66" y="62.26" width="3.22" height="3.27" fill="#ff8c6c"/><rect x="95.88" y="62.26" width="3.22" height="3.27" fill="#ffcc00"/><rect x="99.10" y="62.26" width="6.44" height="3.27" fill="#ffee00"/><rect x="47.58" y="65.53" width="35.42" height="3.27" fill="#ffee00"/><rect x="83.00" y="65.53" width="6.44" height="3.27" fill="#ff58a8"/><rect x="89.44" y="65.53" width="3.22" height="3.27" fill="#ffcc00"/><rect x="92.66" y="65.53" width="3.22" height="3.27" fill="#0000f5"/><rect x="95.88" y="65.53" width="3.22" height="3.27" fill="#ffcc00"/><rect x="99.10" y="65.53" width="6.44" height="3.27" fill="#ffee00"/><rect x="47.58" y="68.80" width="32.20" height="3.27" fill="#ffee00"/><rect x="79.78" y="68.80" width="3.22" height="3.27" fill="#ffcc00"/><rect x="83.00" y="68.80" width="3.22" height="3.27" fill="#ff8c6c"/><rect x="86.22" y="68.80" width="3.22" height="3.27" fill="#ffee00"/><rect x="89.44" y="68.80" width="3.22" height="3.27" fill="#ff58a8"/><rect x="92.66" y="68.80" width="3.22" height="3.27" fill="#ffcc00"/><rect x="95.88" y="68.80" width="6.44" height="3.27" fill="#ffee00"/><rect x="47.58" y="72.07" width="25.76" height="3.27" fill="#ffee00"/><rect x="73.34" y="72.07" width="3.22" height="3.27" fill="#ff8c6c"/><rect x="76.56" y="72.07" width="3.22" height="3.27" fill="#ffcc00"/><rect x="79.78" y="72.07" width="3.22" height="3.27" fill="#ff8c6c"/><rect x="83.00" y="72.07" width="3.22" height="3.27" fill="#ff58a8"/><rect x="86.22" y="72.07" width="3.22" height="3.27" fill="#ffcc00"/><rect x="89.44" y="72.07" width="3.22" height="3.27" fill="#ff8c6c"/><rect x="92.66" y="72.07" width="3.22" height="3.27" fill="#ffcc00"/><rect x="95.88" y="72.07" width="6.44" height="3.27" fill="#ffee00"/><rect x="47.58" y="75.34" width="19.32" height="3.27" fill="#ffee00"/><rect x="66.90" y="75.34" width="3.22" height="3.27" fill="#ffcc00"/><rect x="70.12" y="75.34" width="3.22" height="3.27" fill="#ff8c6c"/><rect x="73.34" y="75.34" width="6.44" height="3.27" fill="#ff58a8"/><rect x="79.78" y="75.34" width="3.22" height="3.27" fill="#ffcc00"/><rect x="83.00" y="75.34" width="6.44" height="3.27" fill="#ff8c6c"/><rect x="89.44" y="75.34" width="3.22" height="3.27" fill="#ff58a8"/><rect x="92.66" y="75.34" width="3.22" height="3.27" fill="#ff8c6c"/><rect x="95.88" y="75.34" width="6.44" height="3.27" fill="#ffee00"/><rect x="47.58" y="78.61" width="16.10" height="3.27" fill="#ffee00"/><rect x="63.68" y="78.61" width="3.22" height="3.27" fill="#ff8c6c"/><rect x="66.90" y="78.61" width="6.44" height="3.27" fill="#ffcc00"/><rect x="73.34" y="78.61" width="3.22" height="3.27" fill="#ff8c6c"/><rect x="76.56" y="78.61" width="3.22" height="3.27" fill="#ff58a8"/><rect x="79.78" y="78.61" width="9.66" height="3.27" fill="#ff8c6c"/><rect x="89.44" y="78.61" width="3.22" height="3.27" fill="#ff58a8"/><rect x="92.66" y="78.61" width="3.22" height="3.27" fill="#ff8c6c"/><rect x="95.88" y="78.61" width="6.44" height="3.27" fill="#ffee00"/><rect x="47.58" y="81.88" width="6.44" height="3.27" fill="#ffee00"/><rect x="54.02" y="81.88" width="6.44" height="3.27" fill="#ffcc00"/><rect x="60.46" y="81.88" width="3.22" height="3.27" fill="#ffee00"/><rect x="63.68" y="81.88" width="3.22" height="3.27" fill="#ff8c6c"/><rect x="66.90" y="81.88" width="3.22" height="3.27" fill="#ffee00"/><rect x="70.12" y="81.88" width="6.44" height="3.27" fill="#ff8c6c"/><rect x="76.56" y="81.88" width="3.22" height="3.27" fill="#ff58a8"/><rect x="79.78" y="81.88" width="3.22" height="3.27" fill="#ff30d0"/><rect x="83.00" y="81.88" width="3.22" height="3.27" fill="#ff8c6c"/><rect x="86.22" y="81.88" width="6.44" height="3.27" fill="#ff58a8"/><rect x="92.66" y="81.88" width="9.66" height="3.27" fill="#ffee00"/><rect x="47.58" y="85.15" width="3.22" height="3.27" fill="#ffff50"/><rect x="50.80" y="85.15" width="6.44" height="3.27" fill="#ffee00"/><rect x="57.24" y="85.15" width="3.22" height="3.27" fill="#ff8c6c"/><rect x="60.46" y="85.15" width="6.44" height="3.27" fill="#ffee00"/><rect x="66.90" y="85.15" width="3.22" height="3.27" fill="#ffcc00"/><rect x="70.12" y="85.15" width="3.22" height="3.27" fill="#ffee00"/><rect x="73.34" y="85.15" width="3.22" height="3.27" fill="#ffcc00"/><rect x="76.56" y="85.15" width="3.22" height="3.27" fill="#ff8c6c"/><rect x="79.78" y="85.15" width="3.22" height="3.27" fill="#0000f5"/><rect x="83.00" y="85.15" width="3.22" height="3.27" fill="#ff8c6c"/><rect x="86.22" y="85.15" width="3.22" height="3.27" fill="#9b00ff"/><rect x="89.44" y="85.15" width="9.66" height="3.27" fill="#ffee00"/><rect x="47.58" y="88.42" width="9.66" height="3.27" fill="#ffee00"/><rect x="57.24" y="88.42" width="3.22" height="3.27" fill="#ff8c6c"/><rect x="60.46" y="88.42" width="12.88" height="3.27" fill="#ffee00"/><rect x="73.34" y="88.42" width="3.22" height="3.27" fill="#ffcc00"/><rect x="76.56" y="88.42" width="3.22" height="3.27" fill="#ff58a8"/><rect x="79.78" y="88.42" width="3.22" height="3.27" fill="#9b00ff"/><rect x="83.00" y="88.42" width="6.44" height="3.27" fill="#0000f5"/><rect x="89.44" y="88.42" width="3.22" height="3.27" fill="#9b00ff"/><rect x="92.66" y="88.42" width="3.22" height="3.27" fill="#0000f5"/><rect x="95.88" y="88.42" width="3.22" height="3.27" fill="#ffee00"/><rect x="47.58" y="91.69" width="6.44" height="3.27" fill="#ffee00"/><rect x="54.02" y="91.69" width="6.44" height="3.27" fill="#ff8c6c"/><rect x="60.46" y="91.69" width="6.44" height="3.27" fill="#ffcc00"/><rect x="66.90" y="91.69" width="3.22" height="3.27" fill="#ffee00"/><rect x="70.12" y="91.69" width="6.44" height="3.27" fill="#ffcc00"/><rect x="76.56" y="91.69" width="3.22" height="3.27" fill="#ff58a8"/><rect x="79.78" y="91.69" width="3.22" height="3.27" fill="#00007d"/><rect x="83.00" y="91.69" width="3.22" height="3.27" fill="#0000f5"/><rect x="86.22" y="91.69" width="3.22" height="3.27" fill="#00007d"/><rect x="89.44" y="91.69" width="6.44" height="3.27" fill="#ffee00"/><rect x="57.24" y="94.96" width="6.44" height="3.27" fill="#ff8c6c"/><rect x="63.68" y="94.96" width="3.22" height="3.27" fill="#0000f5"/><rect x="66.90" y="94.96" width="6.44" height="3.27" fill="#ff58a8"/><rect x="73.34" y="94.96" width="3.22" height="3.27" fill="#9b00ff"/><rect x="76.56" y="94.96" width="3.22" height="3.27" fill="#ff58a8"/><rect x="79.78" y="94.96" width="3.22" height="3.27" fill="#9b00ff"/><rect x="83.00" y="94.96" width="3.22" height="3.27" fill="#0000f5"/><rect x="86.22" y="94.96" width="3.22" height="3.27" fill="#ffee00"/><rect x="57.24" y="98.23" width="3.22" height="3.27" fill="#ff8c6c"/><rect x="60.46" y="98.23" width="3.22" height="3.27" fill="#ff58a8"/><rect x="63.68" y="98.23" width="6.44" height="3.27" fill="#0000f5"/><rect x="70.12" y="98.23" width="3.22" height="3.27" fill="#0b0b33"/><rect x="73.34" y="98.23" width="3.22" height="3.27" fill="#0000b8"/><rect x="76.56" y="98.23" width="3.22" height="3.27" fill="#ffa840"/><rect x="57.24" y="101.50" width="3.22" height="3.27" fill="#ff58a8"/><rect x="60.46" y="101.50" width="3.22" height="3.27" fill="#0000f5"/><rect x="63.68" y="101.50" width="3.22" height="3.27" fill="#0000b8"/><rect x="66.90" y="101.50" width="6.44" height="3.27" fill="#0b0b33"/><rect x="73.34" y="101.50" width="3.22" height="3.27" fill="#6000ff"/><rect x="60.46" y="104.77" width="3.22" height="3.27" fill="#0000f5"/><rect x="63.68" y="104.77" width="3.22" height="3.27" fill="#6000ff"/><rect x="66.90" y="104.77" width="6.44" height="3.27" fill="#0b0b33"/><rect x="73.34" y="104.77" width="3.22" height="3.27" fill="#ffa840"/><rect x="57.24" y="108.04" width="6.44" height="3.27" fill="#9b00ff"/><rect x="63.68" y="108.04" width="3.22" height="3.27" fill="#0000f5"/><rect x="66.90" y="108.04" width="6.44" height="3.27" fill="#0b0b33"/><rect x="73.34" y="108.04" width="3.22" height="3.27" fill="#ff58a8"/><rect x="54.02" y="111.31" width="3.22" height="3.27" fill="#ff58a8"/><rect x="57.24" y="111.31" width="6.44" height="3.27" fill="#9b00ff"/><rect x="63.68" y="111.31" width="9.66" height="3.27" fill="#0b0b33"/><rect x="50.80" y="114.58" width="9.66" height="3.27" fill="#0000f5"/><rect x="60.46" y="114.58" width="3.22" height="3.27" fill="#d020f0"/><rect x="63.68" y="114.58" width="6.44" height="3.27" fill="#ff58a8"/><rect x="47.58" y="117.85" width="16.10" height="3.27" fill="#0b0b33"/><rect x="63.68" y="117.85" width="3.22" height="3.27" fill="#0000f5"/><rect x="47.58" y="121.12" width="16.10" height="3.27" fill="#0b0b33"/><rect x="63.68" y="121.12" width="3.22" height="3.27" fill="#0000b8"/><rect x="47.58" y="124.39" width="16.10" height="3.27" fill="#0b0b33"/><rect x="47.58" y="127.66" width="12.88" height="3.27" fill="#0b0b33"/></g>
<use href="#amz" fill="#ffee00" transform="translate(0,0.9)"/>
<use href="#amz" fill="#808080" stroke="#6a6a6a" stroke-width="0.4"/>
<rect x="43.0" y="18.4" width="1.9" height="5.4" fill="#ffee00"/>
<rect x="43.0" y="15.5" width="1.9" height="3.0" fill="#ffee00"/>
<rect x="28.6" y="16.0" width="3.2" height="3.1" fill="#0000e8"/>
<rect x="41.6" y="12.8" width="3.2" height="2.9" fill="#0000a8"/>
<polyline points="70.7,27.4 73.3,29.3 76.4,30.5 79.8,31.2 83.6,32.7 85.8,34.6 87,36.5 87.4,39.2" fill="none" stroke="#3a3a3a" stroke-width="0.9"/><polyline points="87.4,39.2 87.4,48.2 85.8,50.1 83.6,51.3" fill="none" stroke="#555" stroke-width="0.6"/>
<text transform="translate(55.65,46.00) scale(0.94,1)" font-size="10" text-anchor="middle" fill="#f6f6f6" stroke="#f6f6f6" stroke-width="0.4">Legal</text>
<text x="55.95" y="59.80" font-size="10" text-anchor="middle" fill="#f6f6f6" stroke="#f6f6f6" stroke-width="0.4">Amazon</text>
</g>
<rect x="394.35" y="7.40" width="126.6" height="18.60" fill="#efefef" stroke="#e2e2e2" stroke-width="0.8"/>
<text transform="translate(457.85,21.10) scale(0.92,1)" font-size="10.5" text-anchor="middle" fill="#1a1a1a" stroke="#1a1a1a" stroke-width="0.3">APRIL</text>
<rect x="394.85" y="26.50" width="126" height="145" fill="#fff" stroke="#ababab" stroke-width="1"/>
<g transform="translate(394.35,26.00)">
<g shape-rendering="crispEdges"><rect x="47.58" y="36.10" width="38.64" height="3.27" fill="#ffee00"/><rect x="86.22" y="36.10" width="6.44" height="3.27" fill="#ffa840"/><rect x="47.58" y="39.37" width="45.08" height="3.27" fill="#ffee00"/><rect x="92.66" y="39.37" width="9.66" height="3.27" fill="#ffcc00"/><rect x="47.58" y="42.64" width="54.74" height="3.27" fill="#ffee00"/><rect x="102.32" y="42.64" width="3.22" height="3.27" fill="#ffcc00"/><rect x="47.58" y="45.91" width="48.30" height="3.27" fill="#ffee00"/><rect x="95.88" y="45.91" width="3.22" height="3.27" fill="#ffff50"/><rect x="99.10" y="45.91" width="12.88" height="3.27" fill="#ffee00"/><rect x="47.58" y="49.18" width="41.86" height="3.27" fill="#ffee00"/><rect x="89.44" y="49.18" width="3.22" height="3.27" fill="#ffcc00"/><rect x="92.66" y="49.18" width="16.10" height="3.27" fill="#ffee00"/><rect x="108.76" y="49.18" width="3.22" height="3.27" fill="#ffff50"/><rect x="47.58" y="52.45" width="54.74" height="3.27" fill="#ffee00"/><rect x="102.32" y="52.45" width="3.22" height="3.27" fill="#ffff50"/><rect x="105.54" y="52.45" width="6.44" height="3.27" fill="#ffee00"/><rect x="47.58" y="55.72" width="35.42" height="3.27" fill="#ffee00"/><rect x="83.00" y="55.72" width="3.22" height="3.27" fill="#ffff50"/><rect x="86.22" y="55.72" width="25.76" height="3.27" fill="#ffee00"/><rect x="47.58" y="58.99" width="45.08" height="3.27" fill="#ffee00"/><rect x="92.66" y="58.99" width="3.22" height="3.27" fill="#ffcc00"/><rect x="95.88" y="58.99" width="6.44" height="3.27" fill="#ffff50"/><rect x="102.32" y="58.99" width="6.44" height="3.27" fill="#ffee00"/><rect x="47.58" y="62.26" width="38.64" height="3.27" fill="#ffee00"/><rect x="86.22" y="62.26" width="3.22" height="3.27" fill="#ffcc00"/><rect x="89.44" y="62.26" width="3.22" height="3.27" fill="#ffee00"/><rect x="92.66" y="62.26" width="3.22" height="3.27" fill="#ff8c6c"/><rect x="95.88" y="62.26" width="3.22" height="3.27" fill="#ffee00"/><rect x="99.10" y="62.26" width="3.22" height="3.27" fill="#ffff50"/><rect x="102.32" y="62.26" width="3.22" height="3.27" fill="#ffee00"/><rect x="47.58" y="65.53" width="41.86" height="3.27" fill="#ffee00"/><rect x="89.44" y="65.53" width="3.22" height="3.27" fill="#ffcc00"/><rect x="92.66" y="65.53" width="3.22" height="3.27" fill="#ff8c6c"/><rect x="95.88" y="65.53" width="3.22" height="3.27" fill="#ffff50"/><rect x="99.10" y="65.53" width="6.44" height="3.27" fill="#ffee00"/><rect x="47.58" y="68.80" width="25.76" height="3.27" fill="#ffee00"/><rect x="73.34" y="68.80" width="3.22" height="3.27" fill="#ffff50"/><rect x="76.56" y="68.80" width="3.22" height="3.27" fill="#ffee00"/><rect x="79.78" y="68.80" width="3.22" height="3.27" fill="#ffcc00"/><rect x="83.00" y="68.80" width="6.44" height="3.27" fill="#ffee00"/><rect x="89.44" y="68.80" width="6.44" height="3.27" fill="#ffcc00"/><rect x="95.88" y="68.80" width="6.44" height="3.27" fill="#ffee00"/><rect x="47.58" y="72.07" width="22.54" height="3.27" fill="#ffee00"/><rect x="70.12" y="72.07" width="3.22" height="3.27" fill="#ffff50"/><rect x="73.34" y="72.07" width="6.44" height="3.27" fill="#ffcc00"/><rect x="79.78" y="72.07" width="6.44" height="3.27" fill="#ffee00"/><rect x="86.22" y="72.07" width="3.22" height="3.27" fill="#ffcc00"/><rect x="89.44" y="72.07" width="12.88" height="3.27" fill="#ffee00"/><rect x="47.58" y="75.34" width="22.54" height="3.27" fill="#ffee00"/><rect x="70.12" y="75.34" width="9.66" height="3.27" fill="#ffcc00"/><rect x="79.78" y="75.34" width="3.22" height="3.27" fill="#ffee00"/><rect x="83.00" y="75.34" width="9.66" height="3.27" fill="#ffcc00"/><rect x="92.66" y="75.34" width="9.66" height="3.27" fill="#ffee00"/><rect x="47.58" y="78.61" width="16.10" height="3.27" fill="#ffee00"/><rect x="63.68" y="78.61" width="6.44" height="3.27" fill="#ffcc00"/><rect x="70.12" y="78.61" width="3.22" height="3.27" fill="#ffee00"/><rect x="73.34" y="78.61" width="6.44" height="3.27" fill="#ffcc00"/><rect x="79.78" y="78.61" width="3.22" height="3.27" fill="#ffee00"/><rect x="83.00" y="78.61" width="3.22" height="3.27" fill="#ffcc00"/><rect x="86.22" y="78.61" width="3.22" height="3.27" fill="#ffee00"/><rect x="89.44" y="78.61" width="3.22" height="3.27" fill="#ffcc00"/><rect x="92.66" y="78.61" width="3.22" height="3.27" fill="#ff8c6c"/><rect x="95.88" y="78.61" width="6.44" height="3.27" fill="#ffee00"/><rect x="47.58" y="81.88" width="12.88" height="3.27" fill="#ffee00"/><rect x="60.46" y="81.88" width="6.44" height="3.27" fill="#ffcc00"/><rect x="66.90" y="81.88" width="3.22" height="3.27" fill="#ffee00"/><rect x="70.12" y="81.88" width="9.66" height="3.27" fill="#ffcc00"/><rect x="79.78" y="81.88" width="3.22" height="3.27" fill="#ff8c6c"/><rect x="83.00" y="81.88" width="3.22" height="3.27" fill="#ffcc00"/><rect x="86.22" y="81.88" width="6.44" height="3.27" fill="#ff8c6c"/><rect x="92.66" y="81.88" width="9.66" height="3.27" fill="#ffee00"/><rect x="47.58" y="85.15" width="6.44" height="3.27" fill="#ffee00"/><rect x="54.02" y="85.15" width="25.76" height="3.27" fill="#ffcc00"/><rect x="79.78" y="85.15" width="6.44" height="3.27" fill="#ff58a8"/><rect x="86.22" y="85.15" width="3.22" height="3.27" fill="#ff30d0"/><rect x="89.44" y="85.15" width="3.22" height="3.27" fill="#ffcc00"/><rect x="92.66" y="85.15" width="6.44" height="3.27" fill="#ffee00"/><rect x="47.58" y="88.42" width="6.44" height="3.27" fill="#ffee00"/><rect x="54.02" y="88.42" width="22.54" height="3.27" fill="#ffcc00"/><rect x="76.56" y="88.42" width="3.22" height="3.27" fill="#ff8c6c"/><rect x="79.78" y="88.42" width="6.44" height="3.27" fill="#ff58a8"/><rect x="86.22" y="88.42" width="3.22" height="3.27" fill="#9b00ff"/><rect x="89.44" y="88.42" width="3.22" height="3.27" fill="#ff58a8"/><rect x="92.66" y="88.42" width="6.44" height="3.27" fill="#ffee00"/><rect x="47.58" y="91.69" width="9.66" height="3.27" fill="#ffee00"/><rect x="57.24" y="91.69" width="22.54" height="3.27" fill="#ffcc00"/><rect x="79.78" y="91.69" width="3.22" height="3.27" fill="#ff8c6c"/><rect x="83.00" y="91.69" width="3.22" height="3.27" fill="#0000f5"/><rect x="86.22" y="91.69" width="3.22" height="3.27" fill="#6000ff"/><rect x="89.44" y="91.69" width="3.22" height="3.27" fill="#9b00ff"/><rect x="92.66" y="91.69" width="3.22" height="3.27" fill="#ffee00"/><rect x="57.24" y="94.96" width="6.44" height="3.27" fill="#ff8c6c"/><rect x="63.68" y="94.96" width="16.10" height="3.27" fill="#ff58a8"/><rect x="79.78" y="94.96" width="3.22" height="3.27" fill="#ff8c6c"/><rect x="83.00" y="94.96" width="3.22" height="3.27" fill="#ff58a8"/><rect x="86.22" y="94.96" width="3.22" height="3.27" fill="#d020f0"/><rect x="57.24" y="98.23" width="3.22" height="3.27" fill="#ff8c6c"/><rect x="60.46" y="98.23" width="6.44" height="3.27" fill="#ff58a8"/><rect x="66.90" y="98.23" width="3.22" height="3.27" fill="#9b00ff"/><rect x="70.12" y="98.23" width="3.22" height="3.27" fill="#0000b8"/><rect x="73.34" y="98.23" width="3.22" height="3.27" fill="#9b00ff"/><rect x="76.56" y="98.23" width="3.22" height="3.27" fill="#ffcc00"/><rect x="57.24" y="101.50" width="3.22" height="3.27" fill="#ff30d0"/><rect x="60.46" y="101.50" width="6.44" height="3.27" fill="#9b00ff"/><rect x="66.90" y="101.50" width="6.44" height="3.27" fill="#0000f5"/><rect x="73.34" y="101.50" width="3.22" height="3.27" fill="#ff58a8"/><rect x="60.46" y="104.77" width="3.22" height="3.27" fill="#0000f5"/><rect x="63.68" y="104.77" width="3.22" height="3.27" fill="#9b00ff"/><rect x="66.90" y="104.77" width="3.22" height="3.27" fill="#0b0b33"/><rect x="70.12" y="104.77" width="3.22" height="3.27" fill="#0000f5"/><rect x="73.34" y="104.77" width="3.22" height="3.27" fill="#ffcc00"/><rect x="57.24" y="108.04" width="3.22" height="3.27" fill="#ff30d0"/><rect x="60.46" y="108.04" width="6.44" height="3.27" fill="#9b00ff"/><rect x="66.90" y="108.04" width="3.22" height="3.27" fill="#0000f5"/><rect x="70.12" y="108.04" width="3.22" height="3.27" fill="#0b0b33"/><rect x="73.34" y="108.04" width="3.22" height="3.27" fill="#ff58a8"/><rect x="54.02" y="111.31" width="3.22" height="3.27" fill="#ff58a8"/><rect x="57.24" y="111.31" width="3.22" height="3.27" fill="#ff30d0"/><rect x="60.46" y="111.31" width="3.22" height="3.27" fill="#9b00ff"/><rect x="63.68" y="111.31" width="3.22" height="3.27" fill="#0000f5"/><rect x="66.90" y="111.31" width="3.22" height="3.27" fill="#0b0b33"/><rect x="70.12" y="111.31" width="3.22" height="3.27" fill="#9b00ff"/><rect x="50.80" y="114.58" width="3.22" height="3.27" fill="#6000ff"/><rect x="54.02" y="114.58" width="3.22" height="3.27" fill="#9b00ff"/><rect x="57.24" y="114.58" width="3.22" height="3.27" fill="#ff30d0"/><rect x="60.46" y="114.58" width="9.66" height="3.27" fill="#ff58a8"/><rect x="47.58" y="117.85" width="9.66" height="3.27" fill="#0b0b33"/><rect x="57.24" y="117.85" width="6.44" height="3.27" fill="#0000f5"/><rect x="63.68" y="117.85" width="3.22" height="3.27" fill="#ff30d0"/><rect x="47.58" y="121.12" width="12.88" height="3.27" fill="#0b0b33"/><rect x="60.46" y="121.12" width="3.22" height="3.27" fill="#0000f5"/><rect x="63.68" y="121.12" width="3.22" height="3.27" fill="#ff30d0"/><rect x="47.58" y="124.39" width="12.88" height="3.27" fill="#0b0b33"/><rect x="60.46" y="124.39" width="3.22" height="3.27" fill="#0000f5"/><rect x="47.58" y="127.66" width="3.22" height="3.27" fill="#0000f5"/><rect x="50.80" y="127.66" width="9.66" height="3.27" fill="#0b0b33"/></g>
<use href="#amz" fill="#ffee00" transform="translate(0,0.9)"/>
<use href="#amz" fill="#808080" stroke="#6a6a6a" stroke-width="0.4"/>
<rect x="43.0" y="18.4" width="1.9" height="5.4" fill="#ffee00"/>
<rect x="43.0" y="15.5" width="1.9" height="3.0" fill="#ffee00"/>
<rect x="28.6" y="16.0" width="3.2" height="3.1" fill="#ffa840"/>
<rect x="41.6" y="12.8" width="3.2" height="2.9" fill="#ff8c5c"/>
<polyline points="70.7,27.4 73.3,29.3 76.4,30.5 79.8,31.2 83.6,32.7 85.8,34.6 87,36.5 87.4,39.2" fill="none" stroke="#3a3a3a" stroke-width="0.9"/><polyline points="87.4,39.2 87.4,48.2 85.8,50.1 83.6,51.3" fill="none" stroke="#555" stroke-width="0.6"/>
<text transform="translate(51.60,43.10) scale(0.94,1)" font-size="10" text-anchor="middle" fill="#f6f6f6" stroke="#f6f6f6" stroke-width="0.4">Legal</text>
<text x="51.90" y="56.90" font-size="10" text-anchor="middle" fill="#f6f6f6" stroke="#f6f6f6" stroke-width="0.4">Amazon</text>
</g>
<rect x="9.00" y="173.00" width="126.6" height="17.75" fill="#efefef" stroke="#e2e2e2" stroke-width="0.8"/>
<text transform="translate(72.50,186.10) scale(0.92,1)" font-size="10.5" text-anchor="middle" fill="#1a1a1a" stroke="#1a1a1a" stroke-width="0.3">MAY</text>
<rect x="9.50" y="191.25" width="126" height="145" fill="#fff" stroke="#ababab" stroke-width="1"/>
<g transform="translate(9.00,190.75)">
<g shape-rendering="crispEdges"><rect x="47.58" y="36.10" width="38.64" height="3.27" fill="#ffee00"/><rect x="86.22" y="36.10" width="6.44" height="3.27" fill="#ff7090"/><rect x="47.58" y="39.37" width="38.64" height="3.27" fill="#ffee00"/><rect x="86.22" y="39.37" width="6.44" height="3.27" fill="#ff8c6c"/><rect x="92.66" y="39.37" width="6.44" height="3.27" fill="#ffcc00"/><rect x="99.10" y="39.37" width="3.22" height="3.27" fill="#ffee00"/><rect x="47.58" y="42.64" width="38.64" height="3.27" fill="#ffee00"/><rect x="86.22" y="42.64" width="6.44" height="3.27" fill="#ff8c6c"/><rect x="92.66" y="42.64" width="3.22" height="3.27" fill="#ffcc00"/><rect x="95.88" y="42.64" width="6.44" height="3.27" fill="#ffee00"/><rect x="102.32" y="42.64" width="3.22" height="3.27" fill="#ffa840"/><rect x="47.58" y="45.91" width="41.86" height="3.27" fill="#ffee00"/><rect x="89.44" y="45.91" width="3.22" height="3.27" fill="#ff8c6c"/><rect x="92.66" y="45.91" width="6.44" height="3.27" fill="#ffcc00"/><rect x="99.10" y="45.91" width="6.44" height="3.27" fill="#ffee00"/><rect x="105.54" y="45.91" width="3.22" height="3.27" fill="#ffa840"/><rect x="108.76" y="45.91" width="3.22" height="3.27" fill="#ffee00"/><rect x="47.58" y="49.18" width="41.86" height="3.27" fill="#ffee00"/><rect x="89.44" y="49.18" width="9.66" height="3.27" fill="#ffcc00"/><rect x="99.10" y="49.18" width="12.88" height="3.27" fill="#ffee00"/><rect x="47.58" y="52.45" width="41.86" height="3.27" fill="#ffee00"/><rect x="89.44" y="52.45" width="3.22" height="3.27" fill="#ffcc00"/><rect x="92.66" y="52.45" width="3.22" height="3.27" fill="#ffee00"/><rect x="95.88" y="52.45" width="6.44" height="3.27" fill="#ffcc00"/><rect x="102.32" y="52.45" width="9.66" height="3.27" fill="#ffee00"/><rect x="47.58" y="55.72" width="48.30" height="3.27" fill="#ffee00"/><rect x="95.88" y="55.72" width="3.22" height="3.27" fill="#ffff50"/><rect x="99.10" y="55.72" width="6.44" height="3.27" fill="#ffee00"/><rect x="105.54" y="55.72" width="3.22" height="3.27" fill="#ffcc00"/><rect x="108.76" y="55.72" width="3.22" height="3.27" fill="#ffee00"/><rect x="47.58" y="58.99" width="48.30" height="3.27" fill="#ffee00"/><rect x="95.88" y="58.99" width="3.22" height="3.27" fill="#ffff50"/><rect x="99.10" y="58.99" width="9.66" height="3.27" fill="#ffee00"/><rect x="47.58" y="62.26" width="38.64" height="3.27" fill="#ffee00"/><rect x="86.22" y="62.26" width="3.22" height="3.27" fill="#ffff50"/><rect x="89.44" y="62.26" width="12.88" height="3.27" fill="#ffee00"/><rect x="102.32" y="62.26" width="3.22" height="3.27" fill="#ffcc00"/><rect x="47.58" y="65.53" width="41.86" height="3.27" fill="#ffee00"/><rect x="89.44" y="65.53" width="3.22" height="3.27" fill="#ffff50"/><rect x="92.66" y="65.53" width="3.22" height="3.27" fill="#ffcc00"/><rect x="95.88" y="65.53" width="3.22" height="3.27" fill="#ffff50"/><rect x="99.10" y="65.53" width="3.22" height="3.27" fill="#ffee00"/><rect x="102.32" y="65.53" width="3.22" height="3.27" fill="#ffcc00"/><rect x="47.58" y="68.80" width="28.98" height="3.27" fill="#ffee00"/><rect x="76.56" y="68.80" width="3.22" height="3.27" fill="#ffff50"/><rect x="79.78" y="68.80" width="12.88" height="3.27" fill="#ffee00"/><rect x="92.66" y="68.80" width="3.22" height="3.27" fill="#ffff50"/><rect x="95.88" y="68.80" width="6.44" height="3.27" fill="#ffee00"/><rect x="47.58" y="72.07" width="32.20" height="3.27" fill="#ffee00"/><rect x="79.78" y="72.07" width="3.22" height="3.27" fill="#ffff50"/><rect x="83.00" y="72.07" width="3.22" height="3.27" fill="#ffee00"/><rect x="86.22" y="72.07" width="3.22" height="3.27" fill="#ffff50"/><rect x="89.44" y="72.07" width="12.88" height="3.27" fill="#ffee00"/><rect x="47.58" y="75.34" width="19.32" height="3.27" fill="#ffee00"/><rect x="66.90" y="75.34" width="3.22" height="3.27" fill="#ffff50"/><rect x="70.12" y="75.34" width="25.76" height="3.27" fill="#ffee00"/><rect x="95.88" y="75.34" width="3.22" height="3.27" fill="#ffff50"/><rect x="99.10" y="75.34" width="3.22" height="3.27" fill="#ffee00"/><rect x="47.58" y="78.61" width="28.98" height="3.27" fill="#ffee00"/><rect x="76.56" y="78.61" width="3.22" height="3.27" fill="#ffcc00"/><rect x="79.78" y="78.61" width="6.44" height="3.27" fill="#ffee00"/><rect x="86.22" y="78.61" width="3.22" height="3.27" fill="#ffcc00"/><rect x="89.44" y="78.61" width="3.22" height="3.27" fill="#ffee00"/><rect x="92.66" y="78.61" width="3.22" height="3.27" fill="#ffcc00"/><rect x="95.88" y="78.61" width="6.44" height="3.27" fill="#ffee00"/><rect x="47.58" y="81.88" width="3.22" height="3.27" fill="#ffee00"/><rect x="50.80" y="81.88" width="3.22" height="3.27" fill="#ffff50"/><rect x="54.02" y="81.88" width="22.54" height="3.27" fill="#ffee00"/><rect x="76.56" y="81.88" width="3.22" height="3.27" fill="#ffcc00"/><rect x="79.78" y="81.88" width="3.22" height="3.27" fill="#ff8c6c"/><rect x="83.00" y="81.88" width="3.22" height="3.27" fill="#ffcc00"/><rect x="86.22" y="81.88" width="6.44" height="3.27" fill="#ff8c6c"/><rect x="92.66" y="81.88" width="9.66" height="3.27" fill="#ffee00"/><rect x="47.58" y="85.15" width="3.22" height="3.27" fill="#ffee00"/><rect x="50.80" y="85.15" width="3.22" height="3.27" fill="#ffff50"/><rect x="54.02" y="85.15" width="19.32" height="3.27" fill="#ffee00"/><rect x="73.34" y="85.15" width="6.44" height="3.27" fill="#ffcc00"/><rect x="79.78" y="85.15" width="9.66" height="3.27" fill="#ff58a8"/><rect x="89.44" y="85.15" width="3.22" height="3.27" fill="#ffcc00"/><rect x="92.66" y="85.15" width="6.44" height="3.27" fill="#ffee00"/><rect x="47.58" y="88.42" width="25.76" height="3.27" fill="#ffee00"/><rect x="73.34" y="88.42" width="6.44" height="3.27" fill="#ffcc00"/><rect x="79.78" y="88.42" width="3.22" height="3.27" fill="#ff58a8"/><rect x="83.00" y="88.42" width="6.44" height="3.27" fill="#ff30d0"/><rect x="89.44" y="88.42" width="6.44" height="3.27" fill="#ff58a8"/><rect x="95.88" y="88.42" width="3.22" height="3.27" fill="#ffee00"/><rect x="47.58" y="91.69" width="6.44" height="3.27" fill="#ffee00"/><rect x="54.02" y="91.69" width="12.88" height="3.27" fill="#ffcc00"/><rect x="66.90" y="91.69" width="3.22" height="3.27" fill="#ffee00"/><rect x="70.12" y="91.69" width="3.22" height="3.27" fill="#ffcc00"/><rect x="73.34" y="91.69" width="3.22" height="3.27" fill="#ffee00"/><rect x="76.56" y="91.69" width="3.22" height="3.27" fill="#ffcc00"/><rect x="79.78" y="91.69" width="3.22" height="3.27" fill="#ff58a8"/><rect x="83.00" y="91.69" width="6.44" height="3.27" fill="#9b00ff"/><rect x="89.44" y="91.69" width="6.44" height="3.27" fill="#ffee00"/><rect x="57.24" y="94.96" width="6.44" height="3.27" fill="#ff8c6c"/><rect x="63.68" y="94.96" width="12.88" height="3.27" fill="#ff58a8"/><rect x="76.56" y="94.96" width="3.22" height="3.27" fill="#ff8c6c"/><rect x="79.78" y="94.96" width="3.22" height="3.27" fill="#ff58a8"/><rect x="83.00" y="94.96" width="3.22" height="3.27" fill="#ff30d0"/><rect x="86.22" y="94.96" width="3.22" height="3.27" fill="#ffee00"/><rect x="57.24" y="98.23" width="6.44" height="3.27" fill="#ff8c6c"/><rect x="63.68" y="98.23" width="3.22" height="3.27" fill="#ff58a8"/><rect x="66.90" y="98.23" width="6.44" height="3.27" fill="#0000f5"/><rect x="73.34" y="98.23" width="3.22" height="3.27" fill="#9b00ff"/><rect x="76.56" y="98.23" width="3.22" height="3.27" fill="#ffcc00"/><rect x="57.24" y="101.50" width="3.22" height="3.27" fill="#ff58a8"/><rect x="60.46" y="101.50" width="3.22" height="3.27" fill="#9b00ff"/><rect x="63.68" y="101.50" width="3.22" height="3.27" fill="#d020f0"/><rect x="66.90" y="101.50" width="6.44" height="3.27" fill="#0000f5"/><rect x="73.34" y="101.50" width="3.22" height="3.27" fill="#ff58a8"/><rect x="60.46" y="104.77" width="3.22" height="3.27" fill="#9b00ff"/><rect x="63.68" y="104.77" width="3.22" height="3.27" fill="#ff58a8"/><rect x="66.90" y="104.77" width="3.22" height="3.27" fill="#00007d"/><rect x="70.12" y="104.77" width="3.22" height="3.27" fill="#9b00ff"/><rect x="73.34" y="104.77" width="3.22" height="3.27" fill="#ffa840"/><rect x="57.24" y="108.04" width="6.44" height="3.27" fill="#9b00ff"/><rect x="63.68" y="108.04" width="3.22" height="3.27" fill="#ff58a8"/><rect x="66.90" y="108.04" width="6.44" height="3.27" fill="#0000f5"/><rect x="73.34" y="108.04" width="3.22" height="3.27" fill="#ffa840"/><rect x="54.02" y="111.31" width="3.22" height="3.27" fill="#ff58a8"/><rect x="57.24" y="111.31" width="3.22" height="3.27" fill="#ff30d0"/><rect x="60.46" y="111.31" width="3.22" height="3.27" fill="#ff58a8"/><rect x="63.68" y="111.31" width="3.22" height="3.27" fill="#9b00ff"/><rect x="66.90" y="111.31" width="3.22" height="3.27" fill="#00007d"/><rect x="70.12" y="111.31" width="3.22" height="3.27" fill="#ff30d0"/><rect x="50.80" y="114.58" width="6.44" height="3.27" fill="#9b00ff"/><rect x="57.24" y="114.58" width="3.22" height="3.27" fill="#ff30d0"/><rect x="60.46" y="114.58" width="6.44" height="3.27" fill="#ff58a8"/><rect x="66.90" y="114.58" width="3.22" height="3.27" fill="#ffee00"/><rect x="47.58" y="117.85" width="6.44" height="3.27" fill="#0000f5"/><rect x="54.02" y="117.85" width="3.22" height="3.27" fill="#9b00ff"/><rect x="57.24" y="117.85" width="3.22" height="3.27" fill="#ff30d0"/><rect x="60.46" y="117.85" width="6.44" height="3.27" fill="#ff58a8"/><rect x="47.58" y="121.12" width="9.66" height="3.27" fill="#0000f5"/><rect x="57.24" y="121.12" width="3.22" height="3.27" fill="#9b00ff"/><rect x="60.46" y="121.12" width="6.44" height="3.27" fill="#ff58a8"/><rect x="47.58" y="124.39" width="3.22" height="3.27" fill="#0000b8"/><rect x="50.80" y="124.39" width="6.44" height="3.27" fill="#0000f5"/><rect x="57.24" y="124.39" width="3.22" height="3.27" fill="#0b0b33"/><rect x="60.46" y="124.39" width="3.22" height="3.27" fill="#9b00ff"/><rect x="47.58" y="127.66" width="3.22" height="3.27" fill="#9b00ff"/><rect x="50.80" y="127.66" width="6.44" height="3.27" fill="#0000f5"/><rect x="57.24" y="127.66" width="3.22" height="3.27" fill="#0b0b33"/></g>
<use href="#amz" fill="#ffee00" transform="translate(0,0.9)"/>
<use href="#amz" fill="#808080" stroke="#6a6a6a" stroke-width="0.4"/>
<rect x="43.0" y="18.4" width="1.9" height="5.4" fill="#ffee00"/>
<rect x="43.0" y="15.5" width="1.9" height="3.0" fill="#ffb030"/>
<rect x="28.6" y="16.0" width="3.2" height="3.1" fill="#ffee00"/>
<rect x="41.6" y="12.8" width="3.2" height="2.9" fill="#ffee00"/>
<polyline points="70.7,27.4 73.3,29.3 76.4,30.5 79.8,31.2 83.6,32.7 85.8,34.6 87,36.5 87.4,39.2" fill="none" stroke="#3a3a3a" stroke-width="0.9"/><polyline points="87.4,39.2 87.4,48.2 85.8,50.1 83.6,51.3" fill="none" stroke="#555" stroke-width="0.6"/>
<text transform="translate(52.00,43.10) scale(0.94,1)" font-size="10" text-anchor="middle" fill="#f6f6f6" stroke="#f6f6f6" stroke-width="0.4">Legal</text>
<text x="52.30" y="56.90" font-size="10" text-anchor="middle" fill="#f6f6f6" stroke="#f6f6f6" stroke-width="0.4">Amazon</text>
</g>
<rect x="137.45" y="173.00" width="126.6" height="17.75" fill="#efefef" stroke="#e2e2e2" stroke-width="0.8"/>
<text transform="translate(200.95,186.10) scale(0.92,1)" font-size="10.5" text-anchor="middle" fill="#1a1a1a" stroke="#1a1a1a" stroke-width="0.3">JUNE</text>
<rect x="137.95" y="191.25" width="126" height="145" fill="#fff" stroke="#ababab" stroke-width="1"/>
<g transform="translate(137.45,190.75)">
<g shape-rendering="crispEdges"><rect x="47.58" y="36.10" width="38.64" height="3.27" fill="#ffee00"/><rect x="86.22" y="36.10" width="6.44" height="3.27" fill="#ff30d0"/><rect x="47.58" y="39.37" width="38.64" height="3.27" fill="#ffee00"/><rect x="86.22" y="39.37" width="6.44" height="3.27" fill="#ff7090"/><rect x="92.66" y="39.37" width="3.22" height="3.27" fill="#ff8c6c"/><rect x="95.88" y="39.37" width="3.22" height="3.27" fill="#ffa840"/><rect x="99.10" y="39.37" width="3.22" height="3.27" fill="#ff7090"/><rect x="47.58" y="42.64" width="38.64" height="3.27" fill="#ffee00"/><rect x="86.22" y="42.64" width="6.44" height="3.27" fill="#ff8c6c"/><rect x="92.66" y="42.64" width="3.22" height="3.27" fill="#ffa840"/><rect x="95.88" y="42.64" width="3.22" height="3.27" fill="#ffcc00"/><rect x="99.10" y="42.64" width="3.22" height="3.27" fill="#ffa840"/><rect x="102.32" y="42.64" width="3.22" height="3.27" fill="#ff58a8"/><rect x="47.58" y="45.91" width="38.64" height="3.27" fill="#ffee00"/><rect x="86.22" y="45.91" width="3.22" height="3.27" fill="#ffa840"/><rect x="89.44" y="45.91" width="3.22" height="3.27" fill="#ff8c6c"/><rect x="92.66" y="45.91" width="6.44" height="3.27" fill="#ffcc00"/><rect x="99.10" y="45.91" width="6.44" height="3.27" fill="#ffee00"/><rect x="105.54" y="45.91" width="3.22" height="3.27" fill="#ffa840"/><rect x="108.76" y="45.91" width="3.22" height="3.27" fill="#ffee00"/><rect x="47.58" y="49.18" width="38.64" height="3.27" fill="#ffee00"/><rect x="86.22" y="49.18" width="9.66" height="3.27" fill="#ffcc00"/><rect x="95.88" y="49.18" width="16.10" height="3.27" fill="#ffee00"/><rect x="47.58" y="52.45" width="38.64" height="3.27" fill="#ffee00"/><rect x="86.22" y="52.45" width="3.22" height="3.27" fill="#ffcc00"/><rect x="89.44" y="52.45" width="6.44" height="3.27" fill="#ff8c6c"/><rect x="95.88" y="52.45" width="6.44" height="3.27" fill="#ffcc00"/><rect x="102.32" y="52.45" width="9.66" height="3.27" fill="#ffee00"/><rect x="47.58" y="55.72" width="35.42" height="3.27" fill="#ffee00"/><rect x="83.00" y="55.72" width="19.32" height="3.27" fill="#ffcc00"/><rect x="102.32" y="55.72" width="9.66" height="3.27" fill="#ffee00"/><rect x="47.58" y="58.99" width="35.42" height="3.27" fill="#ffee00"/><rect x="83.00" y="58.99" width="3.22" height="3.27" fill="#ffff50"/><rect x="86.22" y="58.99" width="6.44" height="3.27" fill="#ffcc00"/><rect x="92.66" y="58.99" width="6.44" height="3.27" fill="#ffee00"/><rect x="99.10" y="58.99" width="3.22" height="3.27" fill="#ffcc00"/><rect x="102.32" y="58.99" width="3.22" height="3.27" fill="#ffee00"/><rect x="105.54" y="58.99" width="3.22" height="3.27" fill="#ffa840"/><rect x="47.58" y="62.26" width="35.42" height="3.27" fill="#ffee00"/><rect x="83.00" y="62.26" width="3.22" height="3.27" fill="#ffff50"/><rect x="86.22" y="62.26" width="6.44" height="3.27" fill="#ffee00"/><rect x="92.66" y="62.26" width="3.22" height="3.27" fill="#ffff50"/><rect x="95.88" y="62.26" width="9.66" height="3.27" fill="#ffee00"/><rect x="47.58" y="65.53" width="54.74" height="3.27" fill="#ffee00"/><rect x="102.32" y="65.53" width="3.22" height="3.27" fill="#ffa840"/><rect x="47.58" y="68.80" width="28.98" height="3.27" fill="#ffee00"/><rect x="76.56" y="68.80" width="3.22" height="3.27" fill="#ffff50"/><rect x="79.78" y="68.80" width="22.54" height="3.27" fill="#ffee00"/><rect x="47.58" y="72.07" width="32.20" height="3.27" fill="#ffee00"/><rect x="79.78" y="72.07" width="3.22" height="3.27" fill="#ffff50"/><rect x="83.00" y="72.07" width="6.44" height="3.27" fill="#ffee00"/><rect x="89.44" y="72.07" width="3.22" height="3.27" fill="#ffff50"/><rect x="92.66" y="72.07" width="3.22" height="3.27" fill="#ffee00"/><rect x="95.88" y="72.07" width="3.22" height="3.27" fill="#ffff50"/><rect x="99.10" y="72.07" width="3.22" height="3.27" fill="#ffee00"/><rect x="47.58" y="75.34" width="54.74" height="3.27" fill="#ffee00"/><rect x="47.58" y="78.61" width="54.74" height="3.27" fill="#ffee00"/><rect x="47.58" y="81.88" width="32.20" height="3.27" fill="#ffee00"/><rect x="79.78" y="81.88" width="9.66" height="3.27" fill="#ffcc00"/><rect x="89.44" y="81.88" width="12.88" height="3.27" fill="#ffee00"/><rect x="47.58" y="85.15" width="32.20" height="3.27" fill="#ffee00"/><rect x="79.78" y="85.15" width="9.66" height="3.27" fill="#ff8c6c"/><rect x="89.44" y="85.15" width="6.44" height="3.27" fill="#ffcc00"/><rect x="95.88" y="85.15" width="3.22" height="3.27" fill="#ffee00"/><rect x="47.58" y="88.42" width="3.22" height="3.27" fill="#ffff50"/><rect x="50.80" y="88.42" width="28.98" height="3.27" fill="#ffee00"/><rect x="79.78" y="88.42" width="16.10" height="3.27" fill="#ff7090"/><rect x="95.88" y="88.42" width="3.22" height="3.27" fill="#ffee00"/><rect x="47.58" y="91.69" width="6.44" height="3.27" fill="#ffee00"/><rect x="54.02" y="91.69" width="3.22" height="3.27" fill="#ffcc00"/><rect x="57.24" y="91.69" width="22.54" height="3.27" fill="#ffee00"/><rect x="79.78" y="91.69" width="3.22" height="3.27" fill="#ff30d0"/><rect x="83.00" y="91.69" width="3.22" height="3.27" fill="#9b00ff"/><rect x="86.22" y="91.69" width="3.22" height="3.27" fill="#ff58a8"/><rect x="89.44" y="91.69" width="6.44" height="3.27" fill="#ffee00"/><rect x="57.24" y="94.96" width="6.44" height="3.27" fill="#ffcc00"/><rect x="63.68" y="94.96" width="9.66" height="3.27" fill="#ff8c6c"/><rect x="73.34" y="94.96" width="6.44" height="3.27" fill="#ffcc00"/><rect x="79.78" y="94.96" width="3.22" height="3.27" fill="#ff30d0"/><rect x="83.00" y="94.96" width="3.22" height="3.27" fill="#ff58a8"/><rect x="86.22" y="94.96" width="3.22" height="3.27" fill="#ffee00"/><rect x="57.24" y="98.23" width="6.44" height="3.27" fill="#ff8c6c"/><rect x="63.68" y="98.23" width="6.44" height="3.27" fill="#ff30d0"/><rect x="70.12" y="98.23" width="3.22" height="3.27" fill="#9b00ff"/><rect x="73.34" y="98.23" width="3.22" height="3.27" fill="#ff58a8"/><rect x="76.56" y="98.23" width="3.22" height="3.27" fill="#ffcc00"/><rect x="57.24" y="101.50" width="3.22" height="3.27" fill="#ff8c6c"/><rect x="60.46" y="101.50" width="3.22" height="3.27" fill="#ff58a8"/><rect x="63.68" y="101.50" width="3.22" height="3.27" fill="#ff30d0"/><rect x="66.90" y="101.50" width="3.22" height="3.27" fill="#9b00ff"/><rect x="70.12" y="101.50" width="3.22" height="3.27" fill="#6000ff"/><rect x="73.34" y="101.50" width="3.22" height="3.27" fill="#ff58a8"/><rect x="60.46" y="104.77" width="6.44" height="3.27" fill="#ff30d0"/><rect x="66.90" y="104.77" width="3.22" height="3.27" fill="#0000f5"/><rect x="70.12" y="104.77" width="3.22" height="3.27" fill="#ff30d0"/><rect x="73.34" y="104.77" width="3.22" height="3.27" fill="#ffcc00"/><rect x="57.24" y="108.04" width="3.22" height="3.27" fill="#ff30d0"/><rect x="60.46" y="108.04" width="6.44" height="3.27" fill="#ff58a8"/><rect x="66.90" y="108.04" width="6.44" height="3.27" fill="#9b00ff"/><rect x="73.34" y="108.04" width="3.22" height="3.27" fill="#ff8c6c"/><rect x="54.02" y="111.31" width="3.22" height="3.27" fill="#ff58a8"/><rect x="57.24" y="111.31" width="6.44" height="3.27" fill="#ff30d0"/><rect x="63.68" y="111.31" width="3.22" height="3.27" fill="#ff58a8"/><rect x="66.90" y="111.31" width="3.22" height="3.27" fill="#0000f5"/><rect x="70.12" y="111.31" width="3.22" height="3.27" fill="#ff30d0"/><rect x="50.80" y="114.58" width="6.44" height="3.27" fill="#d020f0"/><rect x="57.24" y="114.58" width="6.44" height="3.27" fill="#ff30d0"/><rect x="63.68" y="114.58" width="6.44" height="3.27" fill="#ff58a8"/><rect x="47.58" y="117.85" width="3.22" height="3.27" fill="#0000f5"/><rect x="50.80" y="117.85" width="3.22" height="3.27" fill="#0000b8"/><rect x="54.02" y="117.85" width="6.44" height="3.27" fill="#0000f5"/><rect x="60.46" y="117.85" width="3.22" height="3.27" fill="#9b00ff"/><rect x="63.68" y="117.85" width="3.22" height="3.27" fill="#ff30d0"/><rect x="47.58" y="121.12" width="3.22" height="3.27" fill="#0000f5"/><rect x="50.80" y="121.12" width="9.66" height="3.27" fill="#00007d"/><rect x="60.46" y="121.12" width="3.22" height="3.27" fill="#0000f5"/><rect x="63.68" y="121.12" width="3.22" height="3.27" fill="#ff30d0"/><rect x="47.58" y="124.39" width="3.22" height="3.27" fill="#0b0b33"/><rect x="50.80" y="124.39" width="3.22" height="3.27" fill="#0000b8"/><rect x="54.02" y="124.39" width="3.22" height="3.27" fill="#0b0b33"/><rect x="57.24" y="124.39" width="3.22" height="3.27" fill="#00007d"/><rect x="60.46" y="124.39" width="3.22" height="3.27" fill="#9b00ff"/><rect x="47.58" y="127.66" width="3.22" height="3.27" fill="#6000ff"/><rect x="50.80" y="127.66" width="6.44" height="3.27" fill="#0000f5"/><rect x="57.24" y="127.66" width="3.22" height="3.27" fill="#00007d"/></g>
<use href="#amz" fill="#ffee00" transform="translate(0,0.9)"/>
<use href="#amz" fill="#808080" stroke="#6a6a6a" stroke-width="0.4"/>
<rect x="43.0" y="18.4" width="1.9" height="5.4" fill="#ffee00"/>
<rect x="43.0" y="15.5" width="1.9" height="3.0" fill="#ff55a0"/>
<rect x="28.6" y="16.0" width="3.2" height="3.1" fill="#ffee00"/>
<rect x="41.6" y="12.8" width="3.2" height="2.9" fill="#ffee00"/>
<polyline points="70.7,27.4 73.3,29.3 76.4,30.5 79.8,31.2 83.6,32.7 85.8,34.6 87,36.5 87.4,39.2" fill="none" stroke="#3a3a3a" stroke-width="0.9"/><polyline points="87.4,39.2 87.4,48.2 85.8,50.1 83.6,51.3" fill="none" stroke="#555" stroke-width="0.6"/>
<text transform="translate(52.10,41.70) scale(0.94,1)" font-size="10" text-anchor="middle" fill="#f6f6f6" stroke="#f6f6f6" stroke-width="0.4">Legal</text>
<text x="52.40" y="55.70" font-size="10" text-anchor="middle" fill="#f6f6f6" stroke="#f6f6f6" stroke-width="0.4">Amazon</text>
</g>
<rect x="265.90" y="173.00" width="126.6" height="17.75" fill="#efefef" stroke="#e2e2e2" stroke-width="0.8"/>
<text transform="translate(329.40,186.10) scale(0.92,1)" font-size="10.5" text-anchor="middle" fill="#1a1a1a" stroke="#1a1a1a" stroke-width="0.3">JULY</text>
<rect x="266.40" y="191.25" width="126" height="145" fill="#fff" stroke="#ababab" stroke-width="1"/>
<g transform="translate(265.90,190.75)">
<g shape-rendering="crispEdges"><rect x="47.58" y="36.10" width="38.64" height="3.27" fill="#ffee00"/><rect x="86.22" y="36.10" width="6.44" height="3.27" fill="#ff30d0"/><rect x="47.58" y="39.37" width="38.64" height="3.27" fill="#ffee00"/><rect x="86.22" y="39.37" width="3.22" height="3.27" fill="#ff7090"/><rect x="89.44" y="39.37" width="6.44" height="3.27" fill="#ff8c6c"/><rect x="95.88" y="39.37" width="3.22" height="3.27" fill="#ffa840"/><rect x="99.10" y="39.37" width="3.22" height="3.27" fill="#ffee00"/><rect x="47.58" y="42.64" width="38.64" height="3.27" fill="#ffee00"/><rect x="86.22" y="42.64" width="6.44" height="3.27" fill="#ff8c6c"/><rect x="92.66" y="42.64" width="6.44" height="3.27" fill="#ffcc00"/><rect x="99.10" y="42.64" width="3.22" height="3.27" fill="#ffee00"/><rect x="102.32" y="42.64" width="3.22" height="3.27" fill="#ff8c6c"/><rect x="47.58" y="45.91" width="41.86" height="3.27" fill="#ffee00"/><rect x="89.44" y="45.91" width="3.22" height="3.27" fill="#ff7090"/><rect x="92.66" y="45.91" width="6.44" height="3.27" fill="#ffcc00"/><rect x="99.10" y="45.91" width="6.44" height="3.27" fill="#ffee00"/><rect x="105.54" y="45.91" width="3.22" height="3.27" fill="#ffcc00"/><rect x="108.76" y="45.91" width="3.22" height="3.27" fill="#ffee00"/><rect x="47.58" y="49.18" width="41.86" height="3.27" fill="#ffee00"/><rect x="89.44" y="49.18" width="3.22" height="3.27" fill="#ff8c6c"/><rect x="92.66" y="49.18" width="6.44" height="3.27" fill="#ffcc00"/><rect x="99.10" y="49.18" width="12.88" height="3.27" fill="#ffee00"/><rect x="47.58" y="52.45" width="38.64" height="3.27" fill="#ffee00"/><rect x="86.22" y="52.45" width="12.88" height="3.27" fill="#ffcc00"/><rect x="99.10" y="52.45" width="12.88" height="3.27" fill="#ffee00"/><rect x="47.58" y="55.72" width="41.86" height="3.27" fill="#ffee00"/><rect x="89.44" y="55.72" width="6.44" height="3.27" fill="#ffcc00"/><rect x="95.88" y="55.72" width="16.10" height="3.27" fill="#ffee00"/><rect x="47.58" y="58.99" width="48.30" height="3.27" fill="#ffee00"/><rect x="95.88" y="58.99" width="3.22" height="3.27" fill="#ffff50"/><rect x="99.10" y="58.99" width="6.44" height="3.27" fill="#ffee00"/><rect x="105.54" y="58.99" width="3.22" height="3.27" fill="#ffa840"/><rect x="47.58" y="62.26" width="41.86" height="3.27" fill="#ffee00"/><rect x="89.44" y="62.26" width="3.22" height="3.27" fill="#ffff50"/><rect x="92.66" y="62.26" width="6.44" height="3.27" fill="#ffee00"/><rect x="99.10" y="62.26" width="3.22" height="3.27" fill="#ffff50"/><rect x="102.32" y="62.26" width="3.22" height="3.27" fill="#ffcc00"/><rect x="47.58" y="65.53" width="38.64" height="3.27" fill="#ffee00"/><rect x="86.22" y="65.53" width="3.22" height="3.27" fill="#ffff50"/><rect x="89.44" y="65.53" width="3.22" height="3.27" fill="#ffee00"/><rect x="92.66" y="65.53" width="3.22" height="3.27" fill="#ffff50"/><rect x="95.88" y="65.53" width="6.44" height="3.27" fill="#ffee00"/><rect x="102.32" y="65.53" width="3.22" height="3.27" fill="#ffcc00"/><rect x="47.58" y="68.80" width="25.76" height="3.27" fill="#ffee00"/><rect x="73.34" y="68.80" width="6.44" height="3.27" fill="#ffff50"/><rect x="79.78" y="68.80" width="9.66" height="3.27" fill="#ffee00"/><rect x="89.44" y="68.80" width="6.44" height="3.27" fill="#ffff50"/><rect x="95.88" y="68.80" width="6.44" height="3.27" fill="#ffee00"/><rect x="47.58" y="72.07" width="41.86" height="3.27" fill="#ffee00"/><rect x="89.44" y="72.07" width="3.22" height="3.27" fill="#ffff50"/><rect x="92.66" y="72.07" width="9.66" height="3.27" fill="#ffee00"/><rect x="47.58" y="75.34" width="12.88" height="3.27" fill="#ffee00"/><rect x="60.46" y="75.34" width="3.22" height="3.27" fill="#ffff50"/><rect x="63.68" y="75.34" width="28.98" height="3.27" fill="#ffee00"/><rect x="92.66" y="75.34" width="3.22" height="3.27" fill="#ffff50"/><rect x="95.88" y="75.34" width="6.44" height="3.27" fill="#ffee00"/><rect x="47.58" y="78.61" width="25.76" height="3.27" fill="#ffee00"/><rect x="73.34" y="78.61" width="6.44" height="3.27" fill="#ffcc00"/><rect x="79.78" y="78.61" width="6.44" height="3.27" fill="#ffee00"/><rect x="86.22" y="78.61" width="6.44" height="3.27" fill="#ffcc00"/><rect x="92.66" y="78.61" width="9.66" height="3.27" fill="#ffee00"/><rect x="47.58" y="81.88" width="32.20" height="3.27" fill="#ffee00"/><rect x="79.78" y="81.88" width="3.22" height="3.27" fill="#ffcc00"/><rect x="83.00" y="81.88" width="9.66" height="3.27" fill="#ff8c6c"/><rect x="92.66" y="81.88" width="9.66" height="3.27" fill="#ffee00"/><rect x="47.58" y="85.15" width="3.22" height="3.27" fill="#ffff50"/><rect x="50.80" y="85.15" width="3.22" height="3.27" fill="#ffee00"/><rect x="54.02" y="85.15" width="3.22" height="3.27" fill="#ffff50"/><rect x="57.24" y="85.15" width="22.54" height="3.27" fill="#ffee00"/><rect x="79.78" y="85.15" width="9.66" height="3.27" fill="#ff58a8"/><rect x="89.44" y="85.15" width="3.22" height="3.27" fill="#ffcc00"/><rect x="92.66" y="85.15" width="6.44" height="3.27" fill="#ffee00"/><rect x="47.58" y="88.42" width="32.20" height="3.27" fill="#ffee00"/><rect x="79.78" y="88.42" width="3.22" height="3.27" fill="#ff7090"/><rect x="83.00" y="88.42" width="6.44" height="3.27" fill="#ff58a8"/><rect x="89.44" y="88.42" width="6.44" height="3.27" fill="#ff7090"/><rect x="95.88" y="88.42" width="3.22" height="3.27" fill="#ffee00"/><rect x="47.58" y="91.69" width="6.44" height="3.27" fill="#ffee00"/><rect x="54.02" y="91.69" width="25.76" height="3.27" fill="#ffcc00"/><rect x="79.78" y="91.69" width="6.44" height="3.27" fill="#9b00ff"/><rect x="86.22" y="91.69" width="3.22" height="3.27" fill="#ff58a8"/><rect x="89.44" y="91.69" width="6.44" height="3.27" fill="#ffee00"/><rect x="57.24" y="94.96" width="9.66" height="3.27" fill="#ff8c6c"/><rect x="66.90" y="94.96" width="6.44" height="3.27" fill="#ff58a8"/><rect x="73.34" y="94.96" width="3.22" height="3.27" fill="#ff8c6c"/><rect x="76.56" y="94.96" width="3.22" height="3.27" fill="#ffcc00"/><rect x="79.78" y="94.96" width="3.22" height="3.27" fill="#ff30d0"/><rect x="83.00" y="94.96" width="3.22" height="3.27" fill="#ff58a8"/><rect x="86.22" y="94.96" width="3.22" height="3.27" fill="#ffee00"/><rect x="57.24" y="98.23" width="3.22" height="3.27" fill="#ff8c6c"/><rect x="60.46" y="98.23" width="6.44" height="3.27" fill="#ff58a8"/><rect x="66.90" y="98.23" width="3.22" height="3.27" fill="#9b00ff"/><rect x="70.12" y="98.23" width="3.22" height="3.27" fill="#0000f5"/><rect x="73.34" y="98.23" width="3.22" height="3.27" fill="#ff58a8"/><rect x="76.56" y="98.23" width="3.22" height="3.27" fill="#ffcc00"/><rect x="57.24" y="101.50" width="3.22" height="3.27" fill="#ff30d0"/><rect x="60.46" y="101.50" width="6.44" height="3.27" fill="#9b00ff"/><rect x="66.90" y="101.50" width="6.44" height="3.27" fill="#0000f5"/><rect x="73.34" y="101.50" width="3.22" height="3.27" fill="#ff8c6c"/><rect x="60.46" y="104.77" width="3.22" height="3.27" fill="#9b00ff"/><rect x="63.68" y="104.77" width="3.22" height="3.27" fill="#ff30d0"/><rect x="66.90" y="104.77" width="3.22" height="3.27" fill="#00007d"/><rect x="70.12" y="104.77" width="3.22" height="3.27" fill="#9b00ff"/><rect x="73.34" y="104.77" width="3.22" height="3.27" fill="#ffcc00"/><rect x="57.24" y="108.04" width="3.22" height="3.27" fill="#0000f5"/><rect x="60.46" y="108.04" width="3.22" height="3.27" fill="#9b00ff"/><rect x="63.68" y="108.04" width="3.22" height="3.27" fill="#ff30d0"/><rect x="66.90" y="108.04" width="3.22" height="3.27" fill="#9b00ff"/><rect x="70.12" y="108.04" width="3.22" height="3.27" fill="#0000f5"/><rect x="73.34" y="108.04" width="3.22" height="3.27" fill="#ff8c6c"/><rect x="54.02" y="111.31" width="3.22" height="3.27" fill="#9b00ff"/><rect x="57.24" y="111.31" width="3.22" height="3.27" fill="#0000f5"/><rect x="60.46" y="111.31" width="3.22" height="3.27" fill="#9b00ff"/><rect x="63.68" y="111.31" width="3.22" height="3.27" fill="#ff30d0"/><rect x="66.90" y="111.31" width="3.22" height="3.27" fill="#0000f5"/><rect x="70.12" y="111.31" width="3.22" height="3.27" fill="#9b00ff"/><rect x="50.80" y="114.58" width="3.22" height="3.27" fill="#6000ff"/><rect x="54.02" y="114.58" width="6.44" height="3.27" fill="#0000f5"/><rect x="60.46" y="114.58" width="3.22" height="3.27" fill="#ff30d0"/><rect x="63.68" y="114.58" width="6.44" height="3.27" fill="#ff58a8"/><rect x="47.58" y="117.85" width="6.44" height="3.27" fill="#00007d"/><rect x="54.02" y="117.85" width="9.66" height="3.27" fill="#0000f5"/><rect x="63.68" y="117.85" width="3.22" height="3.27" fill="#ff30d0"/><rect x="47.58" y="121.12" width="6.44" height="3.27" fill="#0b0b33"/><rect x="54.02" y="121.12" width="6.44" height="3.27" fill="#00007d"/><rect x="60.46" y="121.12" width="6.44" height="3.27" fill="#0000f5"/><rect x="47.58" y="124.39" width="9.66" height="3.27" fill="#0b0b33"/><rect x="57.24" y="124.39" width="3.22" height="3.27" fill="#00007d"/><rect x="60.46" y="124.39" width="3.22" height="3.27" fill="#0000f5"/><rect x="47.58" y="127.66" width="3.22" height="3.27" fill="#0000f5"/><rect x="50.80" y="127.66" width="9.66" height="3.27" fill="#0b0b33"/></g>
<use href="#amz" fill="#ffee00" transform="translate(0,0.9)"/>
<use href="#amz" fill="#808080" stroke="#6a6a6a" stroke-width="0.4"/>
<rect x="43.0" y="18.4" width="1.9" height="5.4" fill="#ffee00"/>
<rect x="43.0" y="15.5" width="1.9" height="3.0" fill="#ff8c50"/>
<rect x="28.6" y="16.0" width="3.2" height="3.1" fill="#ffee00"/>
<rect x="41.6" y="12.8" width="3.2" height="2.9" fill="#ffee00"/>
<polyline points="70.7,27.4 73.3,29.3 76.4,30.5 79.8,31.2 83.6,32.7 85.8,34.6 87,36.5 87.4,39.2" fill="none" stroke="#3a3a3a" stroke-width="0.9"/><polyline points="87.4,39.2 87.4,48.2 85.8,50.1 83.6,51.3" fill="none" stroke="#555" stroke-width="0.6"/>
<text transform="translate(52.00,44.45) scale(0.94,1)" font-size="10" text-anchor="middle" fill="#f6f6f6" stroke="#f6f6f6" stroke-width="0.4">Legal</text>
<text x="52.30" y="58.50" font-size="10" text-anchor="middle" fill="#f6f6f6" stroke="#f6f6f6" stroke-width="0.4">Amazon</text>
</g>
<rect x="394.35" y="173.00" width="126.6" height="17.75" fill="#efefef" stroke="#e2e2e2" stroke-width="0.8"/>
<text transform="translate(457.85,186.10) scale(0.92,1)" font-size="10.5" text-anchor="middle" fill="#1a1a1a" stroke="#1a1a1a" stroke-width="0.3">AUGUST</text>
<rect x="394.85" y="191.25" width="126" height="145" fill="#fff" stroke="#ababab" stroke-width="1"/>
<g transform="translate(394.35,190.75)">
<g shape-rendering="crispEdges"><rect x="47.58" y="36.10" width="41.86" height="3.27" fill="#ffee00"/><rect x="89.44" y="36.10" width="3.22" height="3.27" fill="#ff8c6c"/><rect x="47.58" y="39.37" width="41.86" height="3.27" fill="#ffee00"/><rect x="89.44" y="39.37" width="3.22" height="3.27" fill="#ffa840"/><rect x="92.66" y="39.37" width="3.22" height="3.27" fill="#ffcc00"/><rect x="95.88" y="39.37" width="3.22" height="3.27" fill="#ffee00"/><rect x="99.10" y="39.37" width="3.22" height="3.27" fill="#ffcc00"/><rect x="47.58" y="42.64" width="41.86" height="3.27" fill="#ffee00"/><rect x="89.44" y="42.64" width="3.22" height="3.27" fill="#ffcc00"/><rect x="92.66" y="42.64" width="9.66" height="3.27" fill="#ffee00"/><rect x="102.32" y="42.64" width="3.22" height="3.27" fill="#ffcc00"/><rect x="47.58" y="45.91" width="41.86" height="3.27" fill="#ffee00"/><rect x="89.44" y="45.91" width="3.22" height="3.27" fill="#ffcc00"/><rect x="92.66" y="45.91" width="9.66" height="3.27" fill="#ffee00"/><rect x="102.32" y="45.91" width="3.22" height="3.27" fill="#ffff50"/><rect x="105.54" y="45.91" width="6.44" height="3.27" fill="#ffee00"/><rect x="47.58" y="49.18" width="41.86" height="3.27" fill="#ffee00"/><rect x="89.44" y="49.18" width="3.22" height="3.27" fill="#ffcc00"/><rect x="92.66" y="49.18" width="9.66" height="3.27" fill="#ffee00"/><rect x="102.32" y="49.18" width="6.44" height="3.27" fill="#ffff50"/><rect x="108.76" y="49.18" width="3.22" height="3.27" fill="#ffee00"/><rect x="47.58" y="52.45" width="41.86" height="3.27" fill="#ffee00"/><rect x="89.44" y="52.45" width="3.22" height="3.27" fill="#ffcc00"/><rect x="92.66" y="52.45" width="19.32" height="3.27" fill="#ffee00"/><rect x="47.58" y="55.72" width="57.96" height="3.27" fill="#ffee00"/><rect x="105.54" y="55.72" width="6.44" height="3.27" fill="#ffff50"/><rect x="47.58" y="58.99" width="61.18" height="3.27" fill="#ffee00"/><rect x="47.58" y="62.26" width="57.96" height="3.27" fill="#ffee00"/><rect x="47.58" y="65.53" width="38.64" height="3.27" fill="#ffee00"/><rect x="86.22" y="65.53" width="3.22" height="3.27" fill="#ffcc00"/><rect x="89.44" y="65.53" width="3.22" height="3.27" fill="#ffee00"/><rect x="92.66" y="65.53" width="3.22" height="3.27" fill="#ff8c6c"/><rect x="95.88" y="65.53" width="9.66" height="3.27" fill="#ffee00"/><rect x="47.58" y="68.80" width="32.20" height="3.27" fill="#ffee00"/><rect x="79.78" y="68.80" width="3.22" height="3.27" fill="#ffff50"/><rect x="83.00" y="68.80" width="19.32" height="3.27" fill="#ffee00"/><rect x="47.58" y="72.07" width="22.54" height="3.27" fill="#ffee00"/><rect x="70.12" y="72.07" width="3.22" height="3.27" fill="#ffff50"/><rect x="73.34" y="72.07" width="19.32" height="3.27" fill="#ffee00"/><rect x="92.66" y="72.07" width="3.22" height="3.27" fill="#ff8c6c"/><rect x="95.88" y="72.07" width="3.22" height="3.27" fill="#ffee00"/><rect x="99.10" y="72.07" width="3.22" height="3.27" fill="#ffff50"/><rect x="47.58" y="75.34" width="19.32" height="3.27" fill="#ffee00"/><rect x="66.90" y="75.34" width="3.22" height="3.27" fill="#ffff50"/><rect x="70.12" y="75.34" width="16.10" height="3.27" fill="#ffee00"/><rect x="86.22" y="75.34" width="6.44" height="3.27" fill="#ffcc00"/><rect x="92.66" y="75.34" width="9.66" height="3.27" fill="#ffee00"/><rect x="47.58" y="78.61" width="28.98" height="3.27" fill="#ffee00"/><rect x="76.56" y="78.61" width="3.22" height="3.27" fill="#ffcc00"/><rect x="79.78" y="78.61" width="6.44" height="3.27" fill="#ffee00"/><rect x="86.22" y="78.61" width="6.44" height="3.27" fill="#ffcc00"/><rect x="92.66" y="78.61" width="3.22" height="3.27" fill="#ff8c6c"/><rect x="95.88" y="78.61" width="6.44" height="3.27" fill="#ffee00"/><rect x="47.58" y="81.88" width="32.20" height="3.27" fill="#ffee00"/><rect x="79.78" y="81.88" width="3.22" height="3.27" fill="#ffcc00"/><rect x="83.00" y="81.88" width="9.66" height="3.27" fill="#ff8c6c"/><rect x="92.66" y="81.88" width="9.66" height="3.27" fill="#ffee00"/><rect x="47.58" y="85.15" width="6.44" height="3.27" fill="#ffee00"/><rect x="54.02" y="85.15" width="3.22" height="3.27" fill="#ffff50"/><rect x="57.24" y="85.15" width="22.54" height="3.27" fill="#ffee00"/><rect x="79.78" y="85.15" width="16.10" height="3.27" fill="#ff58a8"/><rect x="95.88" y="85.15" width="3.22" height="3.27" fill="#ffee00"/><rect x="47.58" y="88.42" width="22.54" height="3.27" fill="#ffee00"/><rect x="70.12" y="88.42" width="3.22" height="3.27" fill="#ffcc00"/><rect x="73.34" y="88.42" width="6.44" height="3.27" fill="#ffee00"/><rect x="79.78" y="88.42" width="3.22" height="3.27" fill="#ff58a8"/><rect x="83.00" y="88.42" width="6.44" height="3.27" fill="#ff30d0"/><rect x="89.44" y="88.42" width="6.44" height="3.27" fill="#ff58a8"/><rect x="95.88" y="88.42" width="3.22" height="3.27" fill="#ffee00"/><rect x="47.58" y="91.69" width="3.22" height="3.27" fill="#ffee00"/><rect x="50.80" y="91.69" width="28.98" height="3.27" fill="#ffcc00"/><rect x="79.78" y="91.69" width="9.66" height="3.27" fill="#9b00ff"/><rect x="89.44" y="91.69" width="6.44" height="3.27" fill="#ffcc00"/><rect x="57.24" y="94.96" width="9.66" height="3.27" fill="#ff8c6c"/><rect x="66.90" y="94.96" width="9.66" height="3.27" fill="#ff58a8"/><rect x="76.56" y="94.96" width="3.22" height="3.27" fill="#ff8c6c"/><rect x="79.78" y="94.96" width="6.44" height="3.27" fill="#ff58a8"/><rect x="86.22" y="94.96" width="3.22" height="3.27" fill="#ffee00"/><rect x="57.24" y="98.23" width="3.22" height="3.27" fill="#ff8c6c"/><rect x="60.46" y="98.23" width="6.44" height="3.27" fill="#ff58a8"/><rect x="66.90" y="98.23" width="3.22" height="3.27" fill="#9b00ff"/><rect x="70.12" y="98.23" width="3.22" height="3.27" fill="#0000f5"/><rect x="73.34" y="98.23" width="3.22" height="3.27" fill="#9b00ff"/><rect x="76.56" y="98.23" width="3.22" height="3.27" fill="#ffcc00"/><rect x="57.24" y="101.50" width="6.44" height="3.27" fill="#ff58a8"/><rect x="63.68" y="101.50" width="3.22" height="3.27" fill="#9b00ff"/><rect x="66.90" y="101.50" width="3.22" height="3.27" fill="#0000f5"/><rect x="70.12" y="101.50" width="3.22" height="3.27" fill="#9b00ff"/><rect x="73.34" y="101.50" width="3.22" height="3.27" fill="#ff58a8"/><rect x="60.46" y="104.77" width="3.22" height="3.27" fill="#9b00ff"/><rect x="63.68" y="104.77" width="3.22" height="3.27" fill="#ff30d0"/><rect x="66.90" y="104.77" width="6.44" height="3.27" fill="#0000f5"/><rect x="73.34" y="104.77" width="3.22" height="3.27" fill="#ffa840"/><rect x="57.24" y="108.04" width="3.22" height="3.27" fill="#ff58a8"/><rect x="60.46" y="108.04" width="6.44" height="3.27" fill="#ff30d0"/><rect x="66.90" y="108.04" width="3.22" height="3.27" fill="#9b00ff"/><rect x="70.12" y="108.04" width="3.22" height="3.27" fill="#0000f5"/><rect x="73.34" y="108.04" width="3.22" height="3.27" fill="#ff58a8"/><rect x="54.02" y="111.31" width="3.22" height="3.27" fill="#ff58a8"/><rect x="57.24" y="111.31" width="6.44" height="3.27" fill="#ff30d0"/><rect x="63.68" y="111.31" width="3.22" height="3.27" fill="#ff58a8"/><rect x="66.90" y="111.31" width="3.22" height="3.27" fill="#0000f5"/><rect x="70.12" y="111.31" width="3.22" height="3.27" fill="#ff58a8"/><rect x="50.80" y="114.58" width="6.44" height="3.27" fill="#9b00ff"/><rect x="57.24" y="114.58" width="6.44" height="3.27" fill="#ff30d0"/><rect x="63.68" y="114.58" width="3.22" height="3.27" fill="#ff58a8"/><rect x="66.90" y="114.58" width="3.22" height="3.27" fill="#ff8c6c"/><rect x="47.58" y="117.85" width="12.88" height="3.27" fill="#0000f5"/><rect x="60.46" y="117.85" width="3.22" height="3.27" fill="#9b00ff"/><rect x="63.68" y="117.85" width="3.22" height="3.27" fill="#ff58a8"/><rect x="47.58" y="121.12" width="3.22" height="3.27" fill="#0b0b33"/><rect x="50.80" y="121.12" width="6.44" height="3.27" fill="#00007d"/><rect x="57.24" y="121.12" width="6.44" height="3.27" fill="#0000f5"/><rect x="63.68" y="121.12" width="3.22" height="3.27" fill="#ffee00"/><rect x="47.58" y="124.39" width="9.66" height="3.27" fill="#0b0b33"/><rect x="57.24" y="124.39" width="3.22" height="3.27" fill="#00007d"/><rect x="60.46" y="124.39" width="3.22" height="3.27" fill="#0000f5"/><rect x="47.58" y="127.66" width="3.22" height="3.27" fill="#0000f5"/><rect x="50.80" y="127.66" width="6.44" height="3.27" fill="#00007d"/><rect x="57.24" y="127.66" width="3.22" height="3.27" fill="#0b0b33"/></g>
<use href="#amz" fill="#ffee00" transform="translate(0,0.9)"/>
<use href="#amz" fill="#808080" stroke="#6a6a6a" stroke-width="0.4"/>
<rect x="43.0" y="18.4" width="1.9" height="5.4" fill="#ffee00"/>
<rect x="43.0" y="15.5" width="1.9" height="3.0" fill="#ffee00"/>
<rect x="28.6" y="16.0" width="3.2" height="3.1" fill="#ffee00"/>
<rect x="41.6" y="12.8" width="3.2" height="2.9" fill="#ffee00"/>
<polyline points="70.7,27.4 73.3,29.3 76.4,30.5 79.8,31.2 83.6,32.7 85.8,34.6 87,36.5 87.4,39.2" fill="none" stroke="#3a3a3a" stroke-width="0.9"/><polyline points="87.4,39.2 87.4,48.2 85.8,50.1 83.6,51.3" fill="none" stroke="#555" stroke-width="0.6"/>
<text transform="translate(53.50,44.80) scale(0.94,1)" font-size="10" text-anchor="middle" fill="#f6f6f6" stroke="#f6f6f6" stroke-width="0.4">Legal</text>
<text x="53.80" y="58.50" font-size="10" text-anchor="middle" fill="#f6f6f6" stroke="#f6f6f6" stroke-width="0.4">Amazon</text>
</g>
<rect x="9.00" y="337.40" width="126.6" height="18.10" fill="#efefef" stroke="#e2e2e2" stroke-width="0.8"/>
<text transform="translate(72.50,351.10) scale(0.92,1)" font-size="10.5" text-anchor="middle" fill="#1a1a1a" stroke="#1a1a1a" stroke-width="0.3">SEPTEMBER</text>
<rect x="9.50" y="356.00" width="126" height="145" fill="#fff" stroke="#ababab" stroke-width="1"/>
<g transform="translate(9.00,355.50)">
<g shape-rendering="crispEdges"><rect x="47.58" y="36.10" width="38.64" height="3.27" fill="#ffee00"/><rect x="86.22" y="36.10" width="6.44" height="3.27" fill="#ff7090"/><rect x="47.58" y="39.37" width="38.64" height="3.27" fill="#ffee00"/><rect x="86.22" y="39.37" width="6.44" height="3.27" fill="#ff8c6c"/><rect x="92.66" y="39.37" width="6.44" height="3.27" fill="#ffcc00"/><rect x="99.10" y="39.37" width="3.22" height="3.27" fill="#ffa840"/><rect x="47.58" y="42.64" width="38.64" height="3.27" fill="#ffee00"/><rect x="86.22" y="42.64" width="6.44" height="3.27" fill="#ff8c6c"/><rect x="92.66" y="42.64" width="3.22" height="3.27" fill="#ffcc00"/><rect x="95.88" y="42.64" width="6.44" height="3.27" fill="#ffee00"/><rect x="102.32" y="42.64" width="3.22" height="3.27" fill="#ffcc00"/><rect x="47.58" y="45.91" width="38.64" height="3.27" fill="#ffee00"/><rect x="86.22" y="45.91" width="3.22" height="3.27" fill="#ff8c6c"/><rect x="89.44" y="45.91" width="3.22" height="3.27" fill="#ff58a8"/><rect x="92.66" y="45.91" width="3.22" height="3.27" fill="#ffcc00"/><rect x="95.88" y="45.91" width="6.44" height="3.27" fill="#ffee00"/><rect x="102.32" y="45.91" width="3.22" height="3.27" fill="#ffff50"/><rect x="105.54" y="45.91" width="6.44" height="3.27" fill="#ffee00"/><rect x="47.58" y="49.18" width="38.64" height="3.27" fill="#ffee00"/><rect x="86.22" y="49.18" width="3.22" height="3.27" fill="#ff8c6c"/><rect x="89.44" y="49.18" width="3.22" height="3.27" fill="#ff58a8"/><rect x="92.66" y="49.18" width="3.22" height="3.27" fill="#ffcc00"/><rect x="95.88" y="49.18" width="3.22" height="3.27" fill="#ffee00"/><rect x="99.10" y="49.18" width="3.22" height="3.27" fill="#ffff50"/><rect x="102.32" y="49.18" width="9.66" height="3.27" fill="#ffee00"/><rect x="47.58" y="52.45" width="38.64" height="3.27" fill="#ffee00"/><rect x="86.22" y="52.45" width="3.22" height="3.27" fill="#ffcc00"/><rect x="89.44" y="52.45" width="3.22" height="3.27" fill="#ff8c6c"/><rect x="92.66" y="52.45" width="3.22" height="3.27" fill="#ffcc00"/><rect x="95.88" y="52.45" width="16.10" height="3.27" fill="#ffee00"/><rect x="47.58" y="55.72" width="38.64" height="3.27" fill="#ffee00"/><rect x="86.22" y="55.72" width="9.66" height="3.27" fill="#ffcc00"/><rect x="95.88" y="55.72" width="16.10" height="3.27" fill="#ffee00"/><rect x="47.58" y="58.99" width="45.08" height="3.27" fill="#ffee00"/><rect x="92.66" y="58.99" width="3.22" height="3.27" fill="#ffff50"/><rect x="95.88" y="58.99" width="12.88" height="3.27" fill="#ffee00"/><rect x="47.58" y="62.26" width="57.96" height="3.27" fill="#ffee00"/><rect x="47.58" y="65.53" width="19.32" height="3.27" fill="#ffee00"/><rect x="66.90" y="65.53" width="3.22" height="3.27" fill="#ffcc00"/><rect x="70.12" y="65.53" width="9.66" height="3.27" fill="#ffee00"/><rect x="79.78" y="65.53" width="3.22" height="3.27" fill="#ffff50"/><rect x="83.00" y="65.53" width="9.66" height="3.27" fill="#ffee00"/><rect x="92.66" y="65.53" width="3.22" height="3.27" fill="#ff8c6c"/><rect x="95.88" y="65.53" width="3.22" height="3.27" fill="#ffff50"/><rect x="99.10" y="65.53" width="6.44" height="3.27" fill="#ffee00"/><rect x="47.58" y="68.80" width="19.32" height="3.27" fill="#ffee00"/><rect x="66.90" y="68.80" width="6.44" height="3.27" fill="#ffcc00"/><rect x="73.34" y="68.80" width="22.54" height="3.27" fill="#ffee00"/><rect x="95.88" y="68.80" width="3.22" height="3.27" fill="#ffff50"/><rect x="99.10" y="68.80" width="3.22" height="3.27" fill="#ffee00"/><rect x="47.58" y="72.07" width="19.32" height="3.27" fill="#ffee00"/><rect x="66.90" y="72.07" width="6.44" height="3.27" fill="#ffcc00"/><rect x="73.34" y="72.07" width="3.22" height="3.27" fill="#ffee00"/><rect x="76.56" y="72.07" width="3.22" height="3.27" fill="#ffff50"/><rect x="79.78" y="72.07" width="22.54" height="3.27" fill="#ffee00"/><rect x="47.58" y="75.34" width="48.30" height="3.27" fill="#ffee00"/><rect x="95.88" y="75.34" width="3.22" height="3.27" fill="#ffff50"/><rect x="99.10" y="75.34" width="3.22" height="3.27" fill="#ffee00"/><rect x="47.58" y="78.61" width="35.42" height="3.27" fill="#ffee00"/><rect x="83.00" y="78.61" width="3.22" height="3.27" fill="#ffcc00"/><rect x="86.22" y="78.61" width="16.10" height="3.27" fill="#ffee00"/><rect x="47.58" y="81.88" width="41.86" height="3.27" fill="#ffee00"/><rect x="89.44" y="81.88" width="3.22" height="3.27" fill="#ff8c6c"/><rect x="92.66" y="81.88" width="9.66" height="3.27" fill="#ffee00"/><rect x="47.58" y="85.15" width="32.20" height="3.27" fill="#ffee00"/><rect x="79.78" y="85.15" width="16.10" height="3.27" fill="#ffa840"/><rect x="95.88" y="85.15" width="3.22" height="3.27" fill="#ffee00"/><rect x="47.58" y="88.42" width="9.66" height="3.27" fill="#ffee00"/><rect x="57.24" y="88.42" width="3.22" height="3.27" fill="#ffff50"/><rect x="60.46" y="88.42" width="19.32" height="3.27" fill="#ffee00"/><rect x="79.78" y="88.42" width="16.10" height="3.27" fill="#ff8c6c"/><rect x="95.88" y="88.42" width="3.22" height="3.27" fill="#ffee00"/><rect x="47.58" y="91.69" width="32.20" height="3.27" fill="#ffee00"/><rect x="79.78" y="91.69" width="9.66" height="3.27" fill="#ff58a8"/><rect x="89.44" y="91.69" width="6.44" height="3.27" fill="#ffee00"/><rect x="57.24" y="94.96" width="6.44" height="3.27" fill="#ffcc00"/><rect x="63.68" y="94.96" width="12.88" height="3.27" fill="#ff8c6c"/><rect x="76.56" y="94.96" width="3.22" height="3.27" fill="#ffcc00"/><rect x="79.78" y="94.96" width="3.22" height="3.27" fill="#ff8c6c"/><rect x="83.00" y="94.96" width="3.22" height="3.27" fill="#ff58a8"/><rect x="86.22" y="94.96" width="3.22" height="3.27" fill="#ffee00"/><rect x="57.24" y="98.23" width="9.66" height="3.27" fill="#ffcc00"/><rect x="66.90" y="98.23" width="3.22" height="3.27" fill="#ff30d0"/><rect x="70.12" y="98.23" width="3.22" height="3.27" fill="#9b00ff"/><rect x="73.34" y="98.23" width="3.22" height="3.27" fill="#ff58a8"/><rect x="76.56" y="98.23" width="3.22" height="3.27" fill="#ffcc00"/><rect x="57.24" y="101.50" width="9.66" height="3.27" fill="#ff8c6c"/><rect x="66.90" y="101.50" width="3.22" height="3.27" fill="#ff30d0"/><rect x="70.12" y="101.50" width="3.22" height="3.27" fill="#9b00ff"/><rect x="73.34" y="101.50" width="3.22" height="3.27" fill="#ff58a8"/><rect x="60.46" y="104.77" width="3.22" height="3.27" fill="#ff58a8"/><rect x="63.68" y="104.77" width="3.22" height="3.27" fill="#ff30d0"/><rect x="66.90" y="104.77" width="3.22" height="3.27" fill="#0000f5"/><rect x="70.12" y="104.77" width="3.22" height="3.27" fill="#ff30d0"/><rect x="73.34" y="104.77" width="3.22" height="3.27" fill="#ffa840"/><rect x="57.24" y="108.04" width="6.44" height="3.27" fill="#ff30d0"/><rect x="63.68" y="108.04" width="3.22" height="3.27" fill="#ff58a8"/><rect x="66.90" y="108.04" width="3.22" height="3.27" fill="#9b00ff"/><rect x="70.12" y="108.04" width="3.22" height="3.27" fill="#0000f5"/><rect x="73.34" y="108.04" width="3.22" height="3.27" fill="#ffa840"/><rect x="54.02" y="111.31" width="3.22" height="3.27" fill="#ff58a8"/><rect x="57.24" y="111.31" width="6.44" height="3.27" fill="#ff30d0"/><rect x="63.68" y="111.31" width="3.22" height="3.27" fill="#9b00ff"/><rect x="66.90" y="111.31" width="3.22" height="3.27" fill="#0000f5"/><rect x="70.12" y="111.31" width="3.22" height="3.27" fill="#9b00ff"/><rect x="50.80" y="114.58" width="9.66" height="3.27" fill="#9b00ff"/><rect x="60.46" y="114.58" width="3.22" height="3.27" fill="#ff30d0"/><rect x="63.68" y="114.58" width="3.22" height="3.27" fill="#ff58a8"/><rect x="66.90" y="114.58" width="3.22" height="3.27" fill="#ff8c6c"/><rect x="47.58" y="117.85" width="9.66" height="3.27" fill="#0000b8"/><rect x="57.24" y="117.85" width="6.44" height="3.27" fill="#0000f5"/><rect x="63.68" y="117.85" width="3.22" height="3.27" fill="#ff30d0"/><rect x="47.58" y="121.12" width="3.22" height="3.27" fill="#0b0b33"/><rect x="50.80" y="121.12" width="9.66" height="3.27" fill="#00007d"/><rect x="60.46" y="121.12" width="3.22" height="3.27" fill="#0000f5"/><rect x="63.68" y="121.12" width="3.22" height="3.27" fill="#9b00ff"/><rect x="47.58" y="124.39" width="9.66" height="3.27" fill="#0b0b33"/><rect x="57.24" y="124.39" width="3.22" height="3.27" fill="#00007d"/><rect x="60.46" y="124.39" width="3.22" height="3.27" fill="#0000f5"/><rect x="47.58" y="127.66" width="3.22" height="3.27" fill="#0000f5"/><rect x="50.80" y="127.66" width="9.66" height="3.27" fill="#0b0b33"/></g>
<use href="#amz" fill="#ffee00" transform="translate(0,0.9)"/>
<use href="#amz" fill="#808080" stroke="#6a6a6a" stroke-width="0.4"/>
<rect x="43.0" y="18.4" width="1.9" height="5.4" fill="#ffee00"/>
<rect x="43.0" y="15.5" width="1.9" height="3.0" fill="#ffa840"/>
<rect x="28.6" y="16.0" width="3.2" height="3.1" fill="#ffee00"/>
<rect x="41.6" y="12.8" width="3.2" height="2.9" fill="#ffee00"/>
<polyline points="70.7,27.4 73.3,29.3 76.4,30.5 79.8,31.2 83.6,32.7 85.8,34.6 87,36.5 87.4,39.2" fill="none" stroke="#3a3a3a" stroke-width="0.9"/><polyline points="87.4,39.2 87.4,48.2 85.8,50.1 83.6,51.3" fill="none" stroke="#555" stroke-width="0.6"/>
<text transform="translate(53.90,44.70) scale(0.94,1)" font-size="10" text-anchor="middle" fill="#f6f6f6" stroke="#f6f6f6" stroke-width="0.4">Legal</text>
<text x="54.20" y="58.75" font-size="10" text-anchor="middle" fill="#f6f6f6" stroke="#f6f6f6" stroke-width="0.4">Amazon</text>
</g>
<rect x="137.45" y="337.40" width="126.6" height="18.10" fill="#efefef" stroke="#e2e2e2" stroke-width="0.8"/>
<text transform="translate(200.95,351.10) scale(0.92,1)" font-size="10.5" text-anchor="middle" fill="#1a1a1a" stroke="#1a1a1a" stroke-width="0.3">OCTOBER</text>
<rect x="137.95" y="356.00" width="126" height="145" fill="#fff" stroke="#ababab" stroke-width="1"/>
<g transform="translate(137.45,355.50)">
<g shape-rendering="crispEdges"><rect x="47.58" y="36.10" width="38.64" height="3.27" fill="#ffee00"/><rect x="86.22" y="36.10" width="6.44" height="3.27" fill="#ffa840"/><rect x="47.58" y="39.37" width="38.64" height="3.27" fill="#ffee00"/><rect x="86.22" y="39.37" width="3.22" height="3.27" fill="#ffa840"/><rect x="89.44" y="39.37" width="3.22" height="3.27" fill="#ffcc00"/><rect x="92.66" y="39.37" width="9.66" height="3.27" fill="#ffee00"/><rect x="47.58" y="42.64" width="38.64" height="3.27" fill="#ffee00"/><rect x="86.22" y="42.64" width="6.44" height="3.27" fill="#ffcc00"/><rect x="92.66" y="42.64" width="9.66" height="3.27" fill="#ffee00"/><rect x="102.32" y="42.64" width="3.22" height="3.27" fill="#ffcc00"/><rect x="47.58" y="45.91" width="38.64" height="3.27" fill="#ffee00"/><rect x="86.22" y="45.91" width="6.44" height="3.27" fill="#ff8c6c"/><rect x="92.66" y="45.91" width="3.22" height="3.27" fill="#ffcc00"/><rect x="95.88" y="45.91" width="6.44" height="3.27" fill="#ffee00"/><rect x="102.32" y="45.91" width="3.22" height="3.27" fill="#ffff50"/><rect x="105.54" y="45.91" width="6.44" height="3.27" fill="#ffee00"/><rect x="47.58" y="49.18" width="41.86" height="3.27" fill="#ffee00"/><rect x="89.44" y="49.18" width="3.22" height="3.27" fill="#ff8c6c"/><rect x="92.66" y="49.18" width="3.22" height="3.27" fill="#ffcc00"/><rect x="95.88" y="49.18" width="16.10" height="3.27" fill="#ffee00"/><rect x="47.58" y="52.45" width="41.86" height="3.27" fill="#ffee00"/><rect x="89.44" y="52.45" width="6.44" height="3.27" fill="#ffcc00"/><rect x="95.88" y="52.45" width="16.10" height="3.27" fill="#ffee00"/><rect x="47.58" y="55.72" width="54.74" height="3.27" fill="#ffee00"/><rect x="102.32" y="55.72" width="3.22" height="3.27" fill="#ffff50"/><rect x="105.54" y="55.72" width="6.44" height="3.27" fill="#ffee00"/><rect x="47.58" y="58.99" width="61.18" height="3.27" fill="#ffee00"/><rect x="47.58" y="62.26" width="38.64" height="3.27" fill="#ffee00"/><rect x="86.22" y="62.26" width="9.66" height="3.27" fill="#ffcc00"/><rect x="95.88" y="62.26" width="9.66" height="3.27" fill="#ffee00"/><rect x="47.58" y="65.53" width="45.08" height="3.27" fill="#ffee00"/><rect x="92.66" y="65.53" width="3.22" height="3.27" fill="#ff58a8"/><rect x="95.88" y="65.53" width="9.66" height="3.27" fill="#ffee00"/><rect x="47.58" y="68.80" width="38.64" height="3.27" fill="#ffee00"/><rect x="86.22" y="68.80" width="3.22" height="3.27" fill="#ffff50"/><rect x="89.44" y="68.80" width="12.88" height="3.27" fill="#ffee00"/><rect x="47.58" y="72.07" width="19.32" height="3.27" fill="#ffee00"/><rect x="66.90" y="72.07" width="3.22" height="3.27" fill="#ffff50"/><rect x="70.12" y="72.07" width="3.22" height="3.27" fill="#ffee00"/><rect x="73.34" y="72.07" width="3.22" height="3.27" fill="#ffff50"/><rect x="76.56" y="72.07" width="6.44" height="3.27" fill="#ffee00"/><rect x="83.00" y="72.07" width="3.22" height="3.27" fill="#ffff50"/><rect x="86.22" y="72.07" width="16.10" height="3.27" fill="#ffee00"/><rect x="47.58" y="75.34" width="54.74" height="3.27" fill="#ffee00"/><rect x="47.58" y="78.61" width="16.10" height="3.27" fill="#ffee00"/><rect x="63.68" y="78.61" width="3.22" height="3.27" fill="#ffff50"/><rect x="66.90" y="78.61" width="22.54" height="3.27" fill="#ffee00"/><rect x="89.44" y="78.61" width="3.22" height="3.27" fill="#ffa840"/><rect x="92.66" y="78.61" width="9.66" height="3.27" fill="#ffee00"/><rect x="47.58" y="81.88" width="41.86" height="3.27" fill="#ffee00"/><rect x="89.44" y="81.88" width="3.22" height="3.27" fill="#ff8c6c"/><rect x="92.66" y="81.88" width="9.66" height="3.27" fill="#ffee00"/><rect x="47.58" y="85.15" width="9.66" height="3.27" fill="#ffee00"/><rect x="57.24" y="85.15" width="3.22" height="3.27" fill="#ffff50"/><rect x="60.46" y="85.15" width="6.44" height="3.27" fill="#ffee00"/><rect x="66.90" y="85.15" width="3.22" height="3.27" fill="#ffff50"/><rect x="70.12" y="85.15" width="9.66" height="3.27" fill="#ffee00"/><rect x="79.78" y="85.15" width="16.10" height="3.27" fill="#ffa840"/><rect x="95.88" y="85.15" width="3.22" height="3.27" fill="#ffee00"/><rect x="47.58" y="88.42" width="16.10" height="3.27" fill="#ffee00"/><rect x="63.68" y="88.42" width="3.22" height="3.27" fill="#ffff50"/><rect x="66.90" y="88.42" width="12.88" height="3.27" fill="#ffee00"/><rect x="79.78" y="88.42" width="16.10" height="3.27" fill="#ff8c6c"/><rect x="95.88" y="88.42" width="3.22" height="3.27" fill="#ffee00"/><rect x="47.58" y="91.69" width="32.20" height="3.27" fill="#ffee00"/><rect x="79.78" y="91.69" width="9.66" height="3.27" fill="#ff30d0"/><rect x="89.44" y="91.69" width="6.44" height="3.27" fill="#ffee00"/><rect x="57.24" y="94.96" width="6.44" height="3.27" fill="#ffcc00"/><rect x="63.68" y="94.96" width="9.66" height="3.27" fill="#ff8c6c"/><rect x="73.34" y="94.96" width="3.22" height="3.27" fill="#ff58a8"/><rect x="76.56" y="94.96" width="3.22" height="3.27" fill="#ff8c6c"/><rect x="79.78" y="94.96" width="3.22" height="3.27" fill="#ff58a8"/><rect x="83.00" y="94.96" width="6.44" height="3.27" fill="#ffee00"/><rect x="57.24" y="98.23" width="3.22" height="3.27" fill="#ffcc00"/><rect x="60.46" y="98.23" width="6.44" height="3.27" fill="#ff8c6c"/><rect x="66.90" y="98.23" width="3.22" height="3.27" fill="#ff30d0"/><rect x="70.12" y="98.23" width="3.22" height="3.27" fill="#0000f5"/><rect x="73.34" y="98.23" width="3.22" height="3.27" fill="#9b00ff"/><rect x="76.56" y="98.23" width="3.22" height="3.27" fill="#ffcc00"/><rect x="57.24" y="101.50" width="3.22" height="3.27" fill="#ff8c6c"/><rect x="60.46" y="101.50" width="6.44" height="3.27" fill="#ff58a8"/><rect x="66.90" y="101.50" width="3.22" height="3.27" fill="#9b00ff"/><rect x="70.12" y="101.50" width="3.22" height="3.27" fill="#0000f5"/><rect x="73.34" y="101.50" width="3.22" height="3.27" fill="#9b00ff"/><rect x="60.46" y="104.77" width="6.44" height="3.27" fill="#ff58a8"/><rect x="66.90" y="104.77" width="3.22" height="3.27" fill="#00007d"/><rect x="70.12" y="104.77" width="3.22" height="3.27" fill="#9b00ff"/><rect x="73.34" y="104.77" width="3.22" height="3.27" fill="#ffa840"/><rect x="57.24" y="108.04" width="3.22" height="3.27" fill="#ff8c6c"/><rect x="60.46" y="108.04" width="3.22" height="3.27" fill="#ff30d0"/><rect x="63.68" y="108.04" width="3.22" height="3.27" fill="#ff58a8"/><rect x="66.90" y="108.04" width="3.22" height="3.27" fill="#0000f5"/><rect x="70.12" y="108.04" width="3.22" height="3.27" fill="#0b0b33"/><rect x="73.34" y="108.04" width="3.22" height="3.27" fill="#ff58a8"/><rect x="54.02" y="111.31" width="3.22" height="3.27" fill="#ff8c6c"/><rect x="57.24" y="111.31" width="3.22" height="3.27" fill="#ff58a8"/><rect x="60.46" y="111.31" width="3.22" height="3.27" fill="#ff30d0"/><rect x="63.68" y="111.31" width="3.22" height="3.27" fill="#0000f5"/><rect x="66.90" y="111.31" width="3.22" height="3.27" fill="#0b0b33"/><rect x="70.12" y="111.31" width="3.22" height="3.27" fill="#0000f5"/><rect x="50.80" y="114.58" width="12.88" height="3.27" fill="#ff30d0"/><rect x="63.68" y="114.58" width="3.22" height="3.27" fill="#ff58a8"/><rect x="66.90" y="114.58" width="3.22" height="3.27" fill="#ffee00"/><rect x="47.58" y="117.85" width="12.88" height="3.27" fill="#00007d"/><rect x="60.46" y="117.85" width="6.44" height="3.27" fill="#0000f5"/><rect x="47.58" y="121.12" width="12.88" height="3.27" fill="#0b0b33"/><rect x="60.46" y="121.12" width="3.22" height="3.27" fill="#00007d"/><rect x="63.68" y="121.12" width="3.22" height="3.27" fill="#0000f5"/><rect x="47.58" y="124.39" width="16.10" height="3.27" fill="#0b0b33"/><rect x="47.58" y="127.66" width="12.88" height="3.27" fill="#0b0b33"/></g>
<use href="#amz" fill="#ffee00" transform="translate(0,0.9)"/>
<use href="#amz" fill="#808080" stroke="#6a6a6a" stroke-width="0.4"/>
<rect x="43.0" y="18.4" width="1.9" height="5.4" fill="#ffee00"/>
<rect x="43.0" y="15.5" width="1.9" height="3.0" fill="#ffee00"/>
<rect x="28.6" y="16.0" width="3.2" height="3.1" fill="#ffa840"/>
<rect x="41.6" y="12.8" width="3.2" height="2.9" fill="#ff8c6c"/>
<polyline points="70.7,27.4 73.3,29.3 76.4,30.5 79.8,31.2 83.6,32.7 85.8,34.6 87,36.5 87.4,39.2" fill="none" stroke="#3a3a3a" stroke-width="0.9"/><polyline points="87.4,39.2 87.4,48.2 85.8,50.1 83.6,51.3" fill="none" stroke="#555" stroke-width="0.6"/>
<text transform="translate(50.50,44.70) scale(0.94,1)" font-size="10" text-anchor="middle" fill="#f6f6f6" stroke="#f6f6f6" stroke-width="0.4">Legal</text>
<text x="50.80" y="58.75" font-size="10" text-anchor="middle" fill="#f6f6f6" stroke="#f6f6f6" stroke-width="0.4">Amazon</text>
</g>
<rect x="265.90" y="337.40" width="126.6" height="18.10" fill="#efefef" stroke="#e2e2e2" stroke-width="0.8"/>
<text transform="translate(329.40,351.10) scale(0.92,1)" font-size="10.5" text-anchor="middle" fill="#1a1a1a" stroke="#1a1a1a" stroke-width="0.3">NOVEMBER</text>
<rect x="266.40" y="356.00" width="126" height="145" fill="#fff" stroke="#ababab" stroke-width="1"/>
<g transform="translate(265.90,355.50)">
<g shape-rendering="crispEdges"><rect x="47.58" y="36.10" width="41.86" height="3.27" fill="#ffee00"/><rect x="89.44" y="36.10" width="3.22" height="3.27" fill="#ffa840"/><rect x="47.58" y="39.37" width="41.86" height="3.27" fill="#ffee00"/><rect x="89.44" y="39.37" width="6.44" height="3.27" fill="#ffcc00"/><rect x="95.88" y="39.37" width="6.44" height="3.27" fill="#ffee00"/><rect x="47.58" y="42.64" width="41.86" height="3.27" fill="#ffee00"/><rect x="89.44" y="42.64" width="3.22" height="3.27" fill="#ffcc00"/><rect x="92.66" y="42.64" width="9.66" height="3.27" fill="#ffee00"/><rect x="102.32" y="42.64" width="3.22" height="3.27" fill="#ffa840"/><rect x="47.58" y="45.91" width="38.64" height="3.27" fill="#ffee00"/><rect x="86.22" y="45.91" width="9.66" height="3.27" fill="#ffcc00"/><rect x="95.88" y="45.91" width="12.88" height="3.27" fill="#ffee00"/><rect x="108.76" y="45.91" width="3.22" height="3.27" fill="#ffff50"/><rect x="47.58" y="49.18" width="38.64" height="3.27" fill="#ffee00"/><rect x="86.22" y="49.18" width="9.66" height="3.27" fill="#ffcc00"/><rect x="95.88" y="49.18" width="9.66" height="3.27" fill="#ffee00"/><rect x="105.54" y="49.18" width="6.44" height="3.27" fill="#ffcc00"/><rect x="47.58" y="52.45" width="38.64" height="3.27" fill="#ffee00"/><rect x="86.22" y="52.45" width="3.22" height="3.27" fill="#ffcc00"/><rect x="89.44" y="52.45" width="16.10" height="3.27" fill="#ffee00"/><rect x="105.54" y="52.45" width="6.44" height="3.27" fill="#ffcc00"/><rect x="47.58" y="55.72" width="64.40" height="3.27" fill="#ffee00"/><rect x="47.58" y="58.99" width="35.42" height="3.27" fill="#ffee00"/><rect x="83.00" y="58.99" width="3.22" height="3.27" fill="#ffcc00"/><rect x="86.22" y="58.99" width="6.44" height="3.27" fill="#ff8c6c"/><rect x="92.66" y="58.99" width="3.22" height="3.27" fill="#ffcc00"/><rect x="95.88" y="58.99" width="12.88" height="3.27" fill="#ffee00"/><rect x="47.58" y="62.26" width="35.42" height="3.27" fill="#ffee00"/><rect x="83.00" y="62.26" width="6.44" height="3.27" fill="#ffcc00"/><rect x="89.44" y="62.26" width="3.22" height="3.27" fill="#ff30d0"/><rect x="92.66" y="62.26" width="3.22" height="3.27" fill="#ff8c6c"/><rect x="95.88" y="62.26" width="3.22" height="3.27" fill="#ffcc00"/><rect x="99.10" y="62.26" width="6.44" height="3.27" fill="#ffee00"/><rect x="47.58" y="65.53" width="35.42" height="3.27" fill="#ffee00"/><rect x="83.00" y="65.53" width="3.22" height="3.27" fill="#ffcc00"/><rect x="86.22" y="65.53" width="3.22" height="3.27" fill="#ff8c6c"/><rect x="89.44" y="65.53" width="3.22" height="3.27" fill="#ffcc00"/><rect x="92.66" y="65.53" width="3.22" height="3.27" fill="#9b00ff"/><rect x="95.88" y="65.53" width="3.22" height="3.27" fill="#ffcc00"/><rect x="99.10" y="65.53" width="6.44" height="3.27" fill="#ffee00"/><rect x="47.58" y="68.80" width="38.64" height="3.27" fill="#ffee00"/><rect x="86.22" y="68.80" width="3.22" height="3.27" fill="#ffcc00"/><rect x="89.44" y="68.80" width="3.22" height="3.27" fill="#ff8c6c"/><rect x="92.66" y="68.80" width="3.22" height="3.27" fill="#ffcc00"/><rect x="95.88" y="68.80" width="6.44" height="3.27" fill="#ffee00"/><rect x="47.58" y="72.07" width="22.54" height="3.27" fill="#ffee00"/><rect x="70.12" y="72.07" width="6.44" height="3.27" fill="#ff8c6c"/><rect x="76.56" y="72.07" width="3.22" height="3.27" fill="#ffcc00"/><rect x="79.78" y="72.07" width="9.66" height="3.27" fill="#ffee00"/><rect x="89.44" y="72.07" width="3.22" height="3.27" fill="#ffcc00"/><rect x="92.66" y="72.07" width="6.44" height="3.27" fill="#ff8c6c"/><rect x="99.10" y="72.07" width="3.22" height="3.27" fill="#ffee00"/><rect x="47.58" y="75.34" width="22.54" height="3.27" fill="#ffee00"/><rect x="70.12" y="75.34" width="3.22" height="3.27" fill="#ff8c6c"/><rect x="73.34" y="75.34" width="12.88" height="3.27" fill="#ffcc00"/><rect x="86.22" y="75.34" width="6.44" height="3.27" fill="#ff8c6c"/><rect x="92.66" y="75.34" width="3.22" height="3.27" fill="#ffcc00"/><rect x="95.88" y="75.34" width="6.44" height="3.27" fill="#ffee00"/><rect x="47.58" y="78.61" width="19.32" height="3.27" fill="#ffee00"/><rect x="66.90" y="78.61" width="19.32" height="3.27" fill="#ffcc00"/><rect x="86.22" y="78.61" width="9.66" height="3.27" fill="#ff8c6c"/><rect x="95.88" y="78.61" width="6.44" height="3.27" fill="#ffee00"/><rect x="47.58" y="81.88" width="25.76" height="3.27" fill="#ffee00"/><rect x="73.34" y="81.88" width="6.44" height="3.27" fill="#ffcc00"/><rect x="79.78" y="81.88" width="3.22" height="3.27" fill="#ff8c6c"/><rect x="83.00" y="81.88" width="3.22" height="3.27" fill="#ffcc00"/><rect x="86.22" y="81.88" width="3.22" height="3.27" fill="#ff8c6c"/><rect x="89.44" y="81.88" width="3.22" height="3.27" fill="#ff58a8"/><rect x="92.66" y="81.88" width="3.22" height="3.27" fill="#ffcc00"/><rect x="95.88" y="81.88" width="6.44" height="3.27" fill="#ffee00"/><rect x="47.58" y="85.15" width="32.20" height="3.27" fill="#ffee00"/><rect x="79.78" y="85.15" width="3.22" height="3.27" fill="#ff58a8"/><rect x="83.00" y="85.15" width="3.22" height="3.27" fill="#ffcc00"/><rect x="86.22" y="85.15" width="3.22" height="3.27" fill="#ff58a8"/><rect x="89.44" y="85.15" width="3.22" height="3.27" fill="#ffcc00"/><rect x="92.66" y="85.15" width="3.22" height="3.27" fill="#ff58a8"/><rect x="95.88" y="85.15" width="3.22" height="3.27" fill="#ffee00"/><rect x="47.58" y="88.42" width="3.22" height="3.27" fill="#ffee00"/><rect x="50.80" y="88.42" width="3.22" height="3.27" fill="#ffff50"/><rect x="54.02" y="88.42" width="25.76" height="3.27" fill="#ffee00"/><rect x="79.78" y="88.42" width="3.22" height="3.27" fill="#ff58a8"/><rect x="83.00" y="88.42" width="3.22" height="3.27" fill="#9b00ff"/><rect x="86.22" y="88.42" width="3.22" height="3.27" fill="#0000f5"/><rect x="89.44" y="88.42" width="6.44" height="3.27" fill="#9b00ff"/><rect x="95.88" y="88.42" width="3.22" height="3.27" fill="#ffee00"/><rect x="47.58" y="91.69" width="6.44" height="3.27" fill="#ffee00"/><rect x="54.02" y="91.69" width="6.44" height="3.27" fill="#ffcc00"/><rect x="60.46" y="91.69" width="16.10" height="3.27" fill="#ffee00"/><rect x="76.56" y="91.69" width="3.22" height="3.27" fill="#ffcc00"/><rect x="79.78" y="91.69" width="6.44" height="3.27" fill="#0000f5"/><rect x="86.22" y="91.69" width="3.22" height="3.27" fill="#00007d"/><rect x="89.44" y="91.69" width="6.44" height="3.27" fill="#ffcc00"/><rect x="57.24" y="94.96" width="6.44" height="3.27" fill="#ff8c6c"/><rect x="63.68" y="94.96" width="3.22" height="3.27" fill="#9b00ff"/><rect x="66.90" y="94.96" width="6.44" height="3.27" fill="#ff58a8"/><rect x="73.34" y="94.96" width="3.22" height="3.27" fill="#ff30d0"/><rect x="76.56" y="94.96" width="3.22" height="3.27" fill="#ff58a8"/><rect x="79.78" y="94.96" width="3.22" height="3.27" fill="#9b00ff"/><rect x="83.00" y="94.96" width="3.22" height="3.27" fill="#0000f5"/><rect x="86.22" y="94.96" width="3.22" height="3.27" fill="#ffee00"/><rect x="57.24" y="98.23" width="3.22" height="3.27" fill="#ff8c6c"/><rect x="60.46" y="98.23" width="6.44" height="3.27" fill="#ff58a8"/><rect x="66.90" y="98.23" width="3.22" height="3.27" fill="#0000f5"/><rect x="70.12" y="98.23" width="3.22" height="3.27" fill="#00007d"/><rect x="73.34" y="98.23" width="3.22" height="3.27" fill="#0000f5"/><rect x="76.56" y="98.23" width="3.22" height="3.27" fill="#ffa840"/><rect x="57.24" y="101.50" width="3.22" height="3.27" fill="#ff58a8"/><rect x="60.46" y="101.50" width="6.44" height="3.27" fill="#0000f5"/><rect x="66.90" y="101.50" width="6.44" height="3.27" fill="#0b0b33"/><rect x="73.34" y="101.50" width="3.22" height="3.27" fill="#0000f5"/><rect x="60.46" y="104.77" width="3.22" height="3.27" fill="#0000f5"/><rect x="63.68" y="104.77" width="3.22" height="3.27" fill="#9b00ff"/><rect x="66.90" y="104.77" width="6.44" height="3.27" fill="#0b0b33"/><rect x="73.34" y="104.77" width="3.22" height="3.27" fill="#ff8c6c"/><rect x="57.24" y="108.04" width="9.66" height="3.27" fill="#9b00ff"/><rect x="66.90" y="108.04" width="3.22" height="3.27" fill="#00007d"/><rect x="70.12" y="108.04" width="3.22" height="3.27" fill="#0b0b33"/><rect x="73.34" y="108.04" width="3.22" height="3.27" fill="#ff58a8"/><rect x="54.02" y="111.31" width="3.22" height="3.27" fill="#ff58a8"/><rect x="57.24" y="111.31" width="6.44" height="3.27" fill="#9b00ff"/><rect x="63.68" y="111.31" width="3.22" height="3.27" fill="#0000f5"/><rect x="66.90" y="111.31" width="6.44" height="3.27" fill="#0b0b33"/><rect x="50.80" y="114.58" width="6.44" height="3.27" fill="#d020f0"/><rect x="57.24" y="114.58" width="6.44" height="3.27" fill="#9b00ff"/><rect x="63.68" y="114.58" width="6.44" height="3.27" fill="#ff58a8"/><rect x="47.58" y="117.85" width="12.88" height="3.27" fill="#0000f5"/><rect x="60.46" y="117.85" width="3.22" height="3.27" fill="#00007d"/><rect x="63.68" y="117.85" width="3.22" height="3.27" fill="#0000f5"/><rect x="47.58" y="121.12" width="3.22" height="3.27" fill="#00007d"/><rect x="50.80" y="121.12" width="3.22" height="3.27" fill="#0b0b33"/><rect x="54.02" y="121.12" width="9.66" height="3.27" fill="#00007d"/><rect x="63.68" y="121.12" width="3.22" height="3.27" fill="#0000f5"/><rect x="47.58" y="124.39" width="3.22" height="3.27" fill="#00007d"/><rect x="50.80" y="124.39" width="9.66" height="3.27" fill="#0b0b33"/><rect x="60.46" y="124.39" width="3.22" height="3.27" fill="#00007d"/><rect x="47.58" y="127.66" width="3.22" height="3.27" fill="#0000f5"/><rect x="50.80" y="127.66" width="9.66" height="3.27" fill="#0b0b33"/></g>
<use href="#amz" fill="#ffee00" transform="translate(0,0.9)"/>
<use href="#amz" fill="#808080" stroke="#6a6a6a" stroke-width="0.4"/>
<rect x="43.0" y="18.4" width="1.9" height="5.4" fill="#ffee00"/>
<rect x="43.0" y="15.5" width="1.9" height="3.0" fill="#ffee00"/>
<rect x="28.6" y="16.0" width="3.2" height="3.1" fill="#e02090"/>
<rect x="41.6" y="12.8" width="3.2" height="2.9" fill="#ff30d0"/>
<polyline points="70.7,27.4 73.3,29.3 76.4,30.5 79.8,31.2 83.6,32.7 85.8,34.6 87,36.5 87.4,39.2" fill="none" stroke="#3a3a3a" stroke-width="0.9"/><polyline points="87.4,39.2 87.4,48.2 85.8,50.1 83.6,51.3" fill="none" stroke="#555" stroke-width="0.6"/>
<text transform="translate(52.25,45.40) scale(0.94,1)" font-size="10" text-anchor="middle" fill="#f6f6f6" stroke="#f6f6f6" stroke-width="0.4">Legal</text>
<text x="52.55" y="59.30" font-size="10" text-anchor="middle" fill="#f6f6f6" stroke="#f6f6f6" stroke-width="0.4">Amazon</text>
</g>
<rect x="394.35" y="337.40" width="126.6" height="18.10" fill="#efefef" stroke="#e2e2e2" stroke-width="0.8"/>
<text transform="translate(457.85,351.10) scale(0.92,1)" font-size="10.5" text-anchor="middle" fill="#1a1a1a" stroke="#1a1a1a" stroke-width="0.3">DECEMBER</text>
<rect x="394.85" y="356.00" width="126" height="145" fill="#fff" stroke="#ababab" stroke-width="1"/>
<g transform="translate(394.35,355.50)">
<g shape-rendering="crispEdges"><rect x="47.58" y="36.10" width="41.86" height="3.27" fill="#ffee00"/><rect x="89.44" y="36.10" width="3.22" height="3.27" fill="#ff8c6c"/><rect x="47.58" y="39.37" width="41.86" height="3.27" fill="#ffee00"/><rect x="89.44" y="39.37" width="3.22" height="3.27" fill="#ff8c6c"/><rect x="92.66" y="39.37" width="3.22" height="3.27" fill="#ffa840"/><rect x="95.88" y="39.37" width="6.44" height="3.27" fill="#ffcc00"/><rect x="47.58" y="42.64" width="41.86" height="3.27" fill="#ffee00"/><rect x="89.44" y="42.64" width="3.22" height="3.27" fill="#ffa840"/><rect x="92.66" y="42.64" width="3.22" height="3.27" fill="#ffcc00"/><rect x="95.88" y="42.64" width="9.66" height="3.27" fill="#ffee00"/><rect x="47.58" y="45.91" width="41.86" height="3.27" fill="#ffee00"/><rect x="89.44" y="45.91" width="3.22" height="3.27" fill="#ffcc00"/><rect x="92.66" y="45.91" width="3.22" height="3.27" fill="#ffa840"/><rect x="95.88" y="45.91" width="16.10" height="3.27" fill="#ffee00"/><rect x="47.58" y="49.18" width="41.86" height="3.27" fill="#ffee00"/><rect x="89.44" y="49.18" width="3.22" height="3.27" fill="#ffcc00"/><rect x="92.66" y="49.18" width="3.22" height="3.27" fill="#ffa840"/><rect x="95.88" y="49.18" width="16.10" height="3.27" fill="#ffee00"/><rect x="47.58" y="52.45" width="41.86" height="3.27" fill="#ffee00"/><rect x="89.44" y="52.45" width="6.44" height="3.27" fill="#ffcc00"/><rect x="95.88" y="52.45" width="16.10" height="3.27" fill="#ffee00"/><rect x="47.58" y="55.72" width="38.64" height="3.27" fill="#ffee00"/><rect x="86.22" y="55.72" width="3.22" height="3.27" fill="#ffff50"/><rect x="89.44" y="55.72" width="22.54" height="3.27" fill="#ffee00"/><rect x="47.58" y="58.99" width="41.86" height="3.27" fill="#ffee00"/><rect x="89.44" y="58.99" width="3.22" height="3.27" fill="#ffcc00"/><rect x="92.66" y="58.99" width="16.10" height="3.27" fill="#ffee00"/><rect x="47.58" y="62.26" width="38.64" height="3.27" fill="#ffee00"/><rect x="86.22" y="62.26" width="3.22" height="3.27" fill="#ffcc00"/><rect x="89.44" y="62.26" width="6.44" height="3.27" fill="#ff8c6c"/><rect x="95.88" y="62.26" width="3.22" height="3.27" fill="#ffcc00"/><rect x="99.10" y="62.26" width="6.44" height="3.27" fill="#ffee00"/><rect x="47.58" y="65.53" width="38.64" height="3.27" fill="#ffee00"/><rect x="86.22" y="65.53" width="3.22" height="3.27" fill="#ffa840"/><rect x="89.44" y="65.53" width="3.22" height="3.27" fill="#ffcc00"/><rect x="92.66" y="65.53" width="3.22" height="3.27" fill="#9b00ff"/><rect x="95.88" y="65.53" width="3.22" height="3.27" fill="#ffcc00"/><rect x="99.10" y="65.53" width="6.44" height="3.27" fill="#ffee00"/><rect x="47.58" y="68.80" width="41.86" height="3.27" fill="#ffee00"/><rect x="89.44" y="68.80" width="6.44" height="3.27" fill="#ffcc00"/><rect x="95.88" y="68.80" width="6.44" height="3.27" fill="#ffee00"/><rect x="47.58" y="72.07" width="19.32" height="3.27" fill="#ffee00"/><rect x="66.90" y="72.07" width="3.22" height="3.27" fill="#ffcc00"/><rect x="70.12" y="72.07" width="9.66" height="3.27" fill="#ffee00"/><rect x="79.78" y="72.07" width="3.22" height="3.27" fill="#ffff50"/><rect x="83.00" y="72.07" width="3.22" height="3.27" fill="#ffee00"/><rect x="86.22" y="72.07" width="3.22" height="3.27" fill="#ffff50"/><rect x="89.44" y="72.07" width="12.88" height="3.27" fill="#ffee00"/><rect x="47.58" y="75.34" width="22.54" height="3.27" fill="#ffee00"/><rect x="70.12" y="75.34" width="6.44" height="3.27" fill="#ffcc00"/><rect x="76.56" y="75.34" width="12.88" height="3.27" fill="#ffee00"/><rect x="89.44" y="75.34" width="3.22" height="3.27" fill="#ffcc00"/><rect x="92.66" y="75.34" width="9.66" height="3.27" fill="#ffee00"/><rect x="47.58" y="78.61" width="41.86" height="3.27" fill="#ffee00"/><rect x="89.44" y="78.61" width="3.22" height="3.27" fill="#ffcc00"/><rect x="92.66" y="78.61" width="3.22" height="3.27" fill="#ffa840"/><rect x="95.88" y="78.61" width="6.44" height="3.27" fill="#ffee00"/><rect x="47.58" y="81.88" width="3.22" height="3.27" fill="#ffee00"/><rect x="50.80" y="81.88" width="6.44" height="3.27" fill="#ffcc00"/><rect x="57.24" y="81.88" width="22.54" height="3.27" fill="#ffee00"/><rect x="79.78" y="81.88" width="3.22" height="3.27" fill="#ff8c6c"/><rect x="83.00" y="81.88" width="6.44" height="3.27" fill="#ffee00"/><rect x="89.44" y="81.88" width="3.22" height="3.27" fill="#ff8c6c"/><rect x="92.66" y="81.88" width="9.66" height="3.27" fill="#ffee00"/><rect x="47.58" y="85.15" width="6.44" height="3.27" fill="#ffcc00"/><rect x="54.02" y="85.15" width="25.76" height="3.27" fill="#ffee00"/><rect x="79.78" y="85.15" width="3.22" height="3.27" fill="#ff8c6c"/><rect x="83.00" y="85.15" width="3.22" height="3.27" fill="#ffee00"/><rect x="86.22" y="85.15" width="3.22" height="3.27" fill="#ffcc00"/><rect x="89.44" y="85.15" width="3.22" height="3.27" fill="#ff8c6c"/><rect x="92.66" y="85.15" width="6.44" height="3.27" fill="#ffee00"/><rect x="47.58" y="88.42" width="3.22" height="3.27" fill="#ff8c6c"/><rect x="50.80" y="88.42" width="28.98" height="3.27" fill="#ffee00"/><rect x="79.78" y="88.42" width="3.22" height="3.27" fill="#ff58a8"/><rect x="83.00" y="88.42" width="3.22" height="3.27" fill="#ff8c6c"/><rect x="86.22" y="88.42" width="3.22" height="3.27" fill="#ff30d0"/><rect x="89.44" y="88.42" width="6.44" height="3.27" fill="#ff8c6c"/><rect x="95.88" y="88.42" width="3.22" height="3.27" fill="#ffee00"/><rect x="47.58" y="91.69" width="32.20" height="3.27" fill="#ffee00"/><rect x="79.78" y="91.69" width="6.44" height="3.27" fill="#ff58a8"/><rect x="86.22" y="91.69" width="3.22" height="3.27" fill="#9b00ff"/><rect x="89.44" y="91.69" width="6.44" height="3.27" fill="#ffee00"/><rect x="57.24" y="94.96" width="6.44" height="3.27" fill="#ffcc00"/><rect x="63.68" y="94.96" width="19.32" height="3.27" fill="#ff8c6c"/><rect x="83.00" y="94.96" width="6.44" height="3.27" fill="#ffee00"/><rect x="57.24" y="98.23" width="6.44" height="3.27" fill="#ffcc00"/><rect x="63.68" y="98.23" width="3.22" height="3.27" fill="#ff8c6c"/><rect x="66.90" y="98.23" width="3.22" height="3.27" fill="#ff30d0"/><rect x="70.12" y="98.23" width="3.22" height="3.27" fill="#0000f5"/><rect x="73.34" y="98.23" width="3.22" height="3.27" fill="#9b00ff"/><rect x="76.56" y="98.23" width="3.22" height="3.27" fill="#ffcc00"/><rect x="57.24" y="101.50" width="3.22" height="3.27" fill="#ffee00"/><rect x="60.46" y="101.50" width="3.22" height="3.27" fill="#ff8c6c"/><rect x="63.68" y="101.50" width="3.22" height="3.27" fill="#ff58a8"/><rect x="66.90" y="101.50" width="3.22" height="3.27" fill="#9b00ff"/><rect x="70.12" y="101.50" width="3.22" height="3.27" fill="#0000f5"/><rect x="73.34" y="101.50" width="3.22" height="3.27" fill="#ff58a8"/><rect x="60.46" y="104.77" width="6.44" height="3.27" fill="#ff8c6c"/><rect x="66.90" y="104.77" width="3.22" height="3.27" fill="#0000f5"/><rect x="70.12" y="104.77" width="3.22" height="3.27" fill="#ff30d0"/><rect x="73.34" y="104.77" width="3.22" height="3.27" fill="#ffee00"/><rect x="57.24" y="108.04" width="9.66" height="3.27" fill="#ff8c6c"/><rect x="66.90" y="108.04" width="3.22" height="3.27" fill="#9b00ff"/><rect x="70.12" y="108.04" width="3.22" height="3.27" fill="#0000b8"/><rect x="73.34" y="108.04" width="3.22" height="3.27" fill="#ff8c6c"/><rect x="54.02" y="111.31" width="3.22" height="3.27" fill="#ffcc00"/><rect x="57.24" y="111.31" width="6.44" height="3.27" fill="#ff8c6c"/><rect x="63.68" y="111.31" width="3.22" height="3.27" fill="#ff30d0"/><rect x="66.90" y="111.31" width="3.22" height="3.27" fill="#0b0b33"/><rect x="70.12" y="111.31" width="3.22" height="3.27" fill="#9b00ff"/><rect x="50.80" y="114.58" width="9.66" height="3.27" fill="#ffa840"/><rect x="60.46" y="114.58" width="9.66" height="3.27" fill="#ffcc00"/><rect x="47.58" y="117.85" width="9.66" height="3.27" fill="#ff30d0"/><rect x="57.24" y="117.85" width="3.22" height="3.27" fill="#ff58a8"/><rect x="60.46" y="117.85" width="3.22" height="3.27" fill="#9b00ff"/><rect x="63.68" y="117.85" width="3.22" height="3.27" fill="#ff58a8"/><rect x="47.58" y="121.12" width="3.22" height="3.27" fill="#ff30d0"/><rect x="50.80" y="121.12" width="3.22" height="3.27" fill="#ff58a8"/><rect x="54.02" y="121.12" width="3.22" height="3.27" fill="#9b00ff"/><rect x="57.24" y="121.12" width="3.22" height="3.27" fill="#0000f5"/><rect x="60.46" y="121.12" width="3.22" height="3.27" fill="#9b00ff"/><rect x="63.68" y="121.12" width="3.22" height="3.27" fill="#ffee00"/><rect x="47.58" y="124.39" width="3.22" height="3.27" fill="#9b00ff"/><rect x="50.80" y="124.39" width="3.22" height="3.27" fill="#ff30d0"/><rect x="54.02" y="124.39" width="3.22" height="3.27" fill="#0000f5"/><rect x="57.24" y="124.39" width="3.22" height="3.27" fill="#00007d"/><rect x="60.46" y="124.39" width="3.22" height="3.27" fill="#9b00ff"/><rect x="47.58" y="127.66" width="3.22" height="3.27" fill="#ff30d0"/><rect x="50.80" y="127.66" width="3.22" height="3.27" fill="#ff58a8"/><rect x="54.02" y="127.66" width="3.22" height="3.27" fill="#9b00ff"/><rect x="57.24" y="127.66" width="3.22" height="3.27" fill="#0b0b33"/></g>
<use href="#amz" fill="#ffee00" transform="translate(0,0.9)"/>
<use href="#amz" fill="#808080" stroke="#6a6a6a" stroke-width="0.4"/>
<rect x="43.0" y="18.4" width="1.9" height="5.4" fill="#ffee00"/>
<rect x="43.0" y="15.5" width="1.9" height="3.0" fill="#ffee00"/>
<rect x="28.6" y="16.0" width="3.2" height="3.1" fill="#b000e0"/>
<rect x="41.6" y="12.8" width="3.2" height="2.9" fill="#8c00ff"/>
<polyline points="70.7,27.4 73.3,29.3 76.4,30.5 79.8,31.2 83.6,32.7 85.8,34.6 87,36.5 87.4,39.2" fill="none" stroke="#3a3a3a" stroke-width="0.9"/><polyline points="87.4,39.2 87.4,48.2 85.8,50.1 83.6,51.3" fill="none" stroke="#555" stroke-width="0.6"/>
<text transform="translate(54.95,45.10) scale(0.94,1)" font-size="10" text-anchor="middle" fill="#f6f6f6" stroke="#f6f6f6" stroke-width="0.4">Legal</text>
<text x="55.25" y="59.10" font-size="10" text-anchor="middle" fill="#f6f6f6" stroke="#f6f6f6" stroke-width="0.4">Amazon</text>
</g>
<rect x="83.50" y="508.5" width="24.66" height="15" fill="#0b0b33"/>
<rect x="107.56" y="508.5" width="24.66" height="15" fill="#00007d"/>
<rect x="131.62" y="508.5" width="24.66" height="15" fill="#0000b8"/>
<rect x="155.69" y="508.5" width="24.66" height="15" fill="#0000f5"/>
<rect x="179.75" y="508.5" width="24.66" height="15" fill="#2600ff"/>
<rect x="203.81" y="508.5" width="24.66" height="15" fill="#6000ff"/>
<rect x="227.88" y="508.5" width="24.66" height="15" fill="#9b00ff"/>
<rect x="251.94" y="508.5" width="24.66" height="15" fill="#d020f0"/>
<rect x="276.00" y="508.5" width="24.66" height="15" fill="#ff30d0"/>
<rect x="300.06" y="508.5" width="24.66" height="15" fill="#ff58a8"/>
<rect x="324.12" y="508.5" width="24.66" height="15" fill="#ff7090"/>
<rect x="348.19" y="508.5" width="24.66" height="15" fill="#ff8c6c"/>
<rect x="372.25" y="508.5" width="24.66" height="15" fill="#ffa840"/>
<rect x="396.31" y="508.5" width="24.66" height="15" fill="#ffcc00"/>
<rect x="420.38" y="508.5" width="24.66" height="15" fill="#ffee00"/>
<rect x="444.44" y="508.5" width="24.06" height="15" fill="#ffff50"/>
<rect x="83.5" y="508.5" width="385.00" height="15" fill="none" stroke="#3a3a3a" stroke-width="0.9"/>
<line x1="110.5" y1="523.5" x2="110.5" y2="527.5" stroke="#555" stroke-width="1"/>
<text x="112.40" y="541.6" text-anchor="middle" font-size="11.8" fill="#111" stroke="#111" stroke-width="0.3">0.4</text>
<line x1="168.5" y1="523.5" x2="168.5" y2="527.5" stroke="#555" stroke-width="1"/>
<text x="171.40" y="541.6" text-anchor="middle" font-size="11.8" fill="#111" stroke="#111" stroke-width="0.3">0.5</text>
<line x1="225.5" y1="523.5" x2="225.5" y2="527.5" stroke="#555" stroke-width="1"/>
<text x="229.30" y="541.6" text-anchor="middle" font-size="11.8" fill="#111" stroke="#111" stroke-width="0.3">0.6</text>
<line x1="282.5" y1="523.5" x2="282.5" y2="527.5" stroke="#555" stroke-width="1"/>
<text x="286.10" y="541.6" text-anchor="middle" font-size="11.8" fill="#111" stroke="#111" stroke-width="0.3">0.7</text>
<line x1="340.5" y1="523.5" x2="340.5" y2="527.5" stroke="#555" stroke-width="1"/>
<text x="342.70" y="541.6" text-anchor="middle" font-size="11.8" fill="#111" stroke="#111" stroke-width="0.3">0.8</text>
<line x1="396.5" y1="523.5" x2="396.5" y2="527.5" stroke="#555" stroke-width="1"/>
<text x="400.20" y="541.6" text-anchor="middle" font-size="11.8" fill="#111" stroke="#111" stroke-width="0.3">0.9</text>
<line x1="454.5" y1="523.5" x2="454.5" y2="527.5" stroke="#555" stroke-width="1"/>
<text x="456.00" y="541.6" text-anchor="middle" font-size="11.8" fill="#111" stroke="#111" stroke-width="0.3">1.0</text>
</svg></body></html>
